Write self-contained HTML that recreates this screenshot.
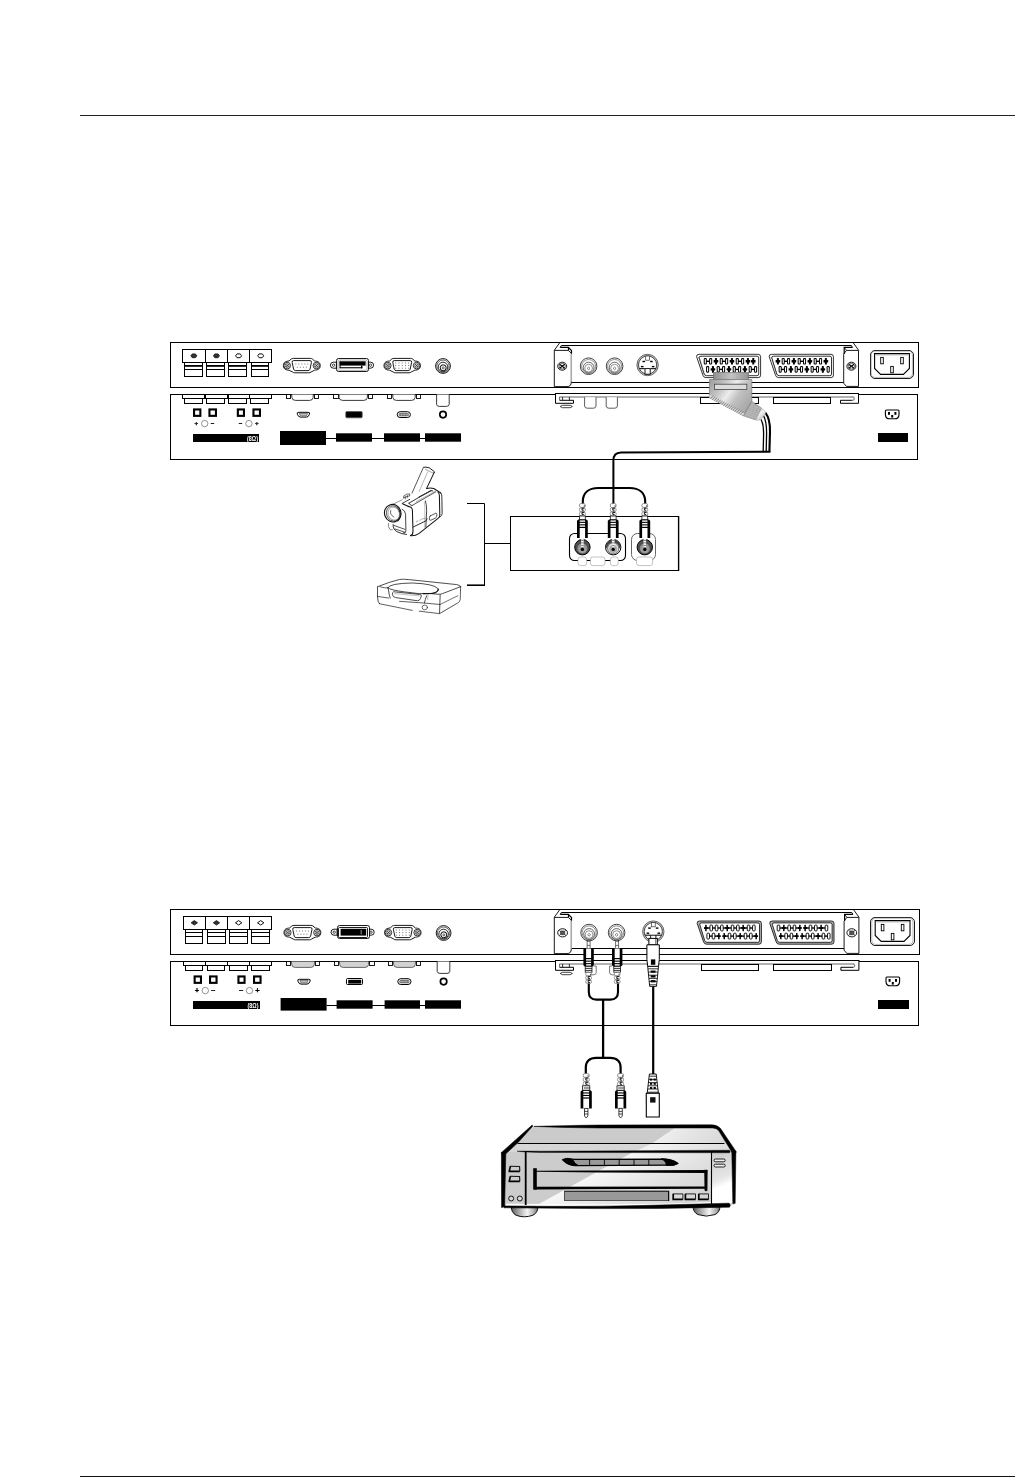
<!DOCTYPE html>
<html lang="en">
<head>
<meta charset="utf-8">
<title>Connections</title>
<style>
html,body{margin:0;padding:0;background:#fff;}
body{width:1015px;height:1477px;overflow:hidden;position:relative;font-family:"Liberation Sans",sans-serif;}
svg{position:absolute;left:0;top:0;display:block;will-change:transform;}
svg text{font-family:"Liberation Sans",sans-serif;}
</style>
</head>
<body>
<svg width="1015" height="1477" viewBox="0 0 1015 1477">
<defs>
<linearGradient id="gPlug" x1="0" y1="0" x2="1" y2="0.6">
<stop offset="0" stop-color="#9a9a9a"/><stop offset="0.3" stop-color="#c4c4c4"/><stop offset="0.5" stop-color="#ececec"/><stop offset="0.7" stop-color="#c0c0c0"/><stop offset="1" stop-color="#a8a8a8"/>
</linearGradient>
<linearGradient id="gPlugTop" x1="0" y1="0" x2="1" y2="0">
<stop offset="0" stop-color="#8c8c8c"/><stop offset="0.5" stop-color="#c8c8c8"/><stop offset="1" stop-color="#909090"/>
</linearGradient>
<linearGradient id="gCone" x1="0" y1="0" x2="0.6" y2="1">
<stop offset="0" stop-color="#b0b0b0"/><stop offset="0.5" stop-color="#f4f4f4"/><stop offset="1" stop-color="#bdbdbd"/>
</linearGradient>
<linearGradient id="gFoot" x1="0" y1="0" x2="1" y2="0">
<stop offset="0" stop-color="#5a5a5a"/><stop offset="0.25" stop-color="#a0a0a0"/><stop offset="0.6" stop-color="#f4f4f4"/><stop offset="0.85" stop-color="#b0b0b0"/><stop offset="1" stop-color="#6a6a6a"/>
</linearGradient>
<linearGradient id="gTop" x1="0" y1="0" x2="1" y2="0">
<stop offset="0" stop-color="#cfcfcf"/><stop offset="0.55" stop-color="#cdcdcd"/><stop offset="0.75" stop-color="#e6e6e6"/><stop offset="1" stop-color="#dadada"/>
</linearGradient>
<linearGradient id="gFront" x1="0" y1="0" x2="1" y2="0">
<stop offset="0" stop-color="#cccccc"/><stop offset="0.3" stop-color="#d0d0d0"/><stop offset="0.55" stop-color="#f2f2f2"/><stop offset="0.75" stop-color="#d4d4d4"/><stop offset="1" stop-color="#e4e4e4"/>
</linearGradient>
</defs>
<rect x="80.00" y="115.00" width="935.00" height="1.00" fill="#222" stroke="none" stroke-width="1" />
<rect x="80.00" y="1476.00" width="935.00" height="1.00" fill="#111" stroke="none" stroke-width="1" />
<rect x="170.50" y="342.50" width="748.00" height="45.00" fill="#fff" stroke="#000" stroke-width="1" />
<rect x="170.50" y="394.50" width="747.00" height="65.00" fill="#fff" stroke="#000" stroke-width="1" />
<rect x="182.50" y="349.50" width="23.00" height="13.00" fill="#fff" stroke="#000" stroke-width="1" />
<rect x="184.50" y="362.50" width="18.00" height="14.00" fill="#fff" stroke="#000" stroke-width="1" />
<rect x="184.20" y="365.00" width="18.40" height="1.80" fill="#000" stroke="none" stroke-width="1" />
<line x1="184.20" y1="369.50" x2="202.60" y2="369.50" stroke="#000" stroke-width="1" />
<path d="M190.85,355.80 L192.25,353.90 L195.45,353.90 L196.85,355.80 L195.45,357.70 L192.25,357.70 Z" fill="#333" stroke="#111" stroke-width="0.8" stroke-linejoin="round"/>
<rect x="182.50" y="394.50" width="22.00" height="4.00" fill="#fff" stroke="#000" stroke-width="1" />
<rect x="184.50" y="398.50" width="18.00" height="5.00" fill="#fff" stroke="#000" stroke-width="1" />
<rect x="205.50" y="349.50" width="22.00" height="13.00" fill="#fff" stroke="#000" stroke-width="1" />
<rect x="206.50" y="362.50" width="18.00" height="14.00" fill="#fff" stroke="#000" stroke-width="1" />
<rect x="206.40" y="365.00" width="18.50" height="1.80" fill="#000" stroke="none" stroke-width="1" />
<line x1="206.40" y1="369.50" x2="224.90" y2="369.50" stroke="#000" stroke-width="1" />
<path d="M213.45,355.80 L214.85,353.90 L218.05,353.90 L219.45,355.80 L218.05,357.70 L214.85,357.70 Z" fill="#333" stroke="#111" stroke-width="0.8" stroke-linejoin="round"/>
<rect x="205.50" y="394.50" width="22.00" height="4.00" fill="#fff" stroke="#000" stroke-width="1" />
<rect x="206.50" y="398.50" width="18.00" height="5.00" fill="#fff" stroke="#000" stroke-width="1" />
<rect x="227.50" y="349.50" width="22.00" height="13.00" fill="#fff" stroke="#000" stroke-width="1" />
<rect x="228.50" y="362.50" width="18.00" height="14.00" fill="#fff" stroke="#000" stroke-width="1" />
<rect x="228.30" y="365.00" width="18.40" height="1.80" fill="#000" stroke="none" stroke-width="1" />
<line x1="228.30" y1="369.50" x2="246.70" y2="369.50" stroke="#000" stroke-width="1" />
<path d="M235.60,355.80 L237.00,353.90 L240.20,353.90 L241.60,355.80 L240.20,357.70 L237.00,357.70 Z" fill="#fff" stroke="#111" stroke-width="1.0" stroke-linejoin="round"/>
<rect x="228.50" y="394.50" width="21.00" height="4.00" fill="#fff" stroke="#000" stroke-width="1" />
<rect x="228.50" y="398.50" width="18.00" height="5.00" fill="#fff" stroke="#000" stroke-width="1" />
<rect x="249.50" y="349.50" width="22.00" height="13.00" fill="#fff" stroke="#000" stroke-width="1" />
<rect x="251.50" y="362.50" width="17.00" height="14.00" fill="#fff" stroke="#000" stroke-width="1" />
<rect x="251.40" y="365.00" width="17.30" height="1.80" fill="#000" stroke="none" stroke-width="1" />
<line x1="251.40" y1="369.50" x2="268.70" y2="369.50" stroke="#000" stroke-width="1" />
<path d="M257.70,355.80 L259.10,353.90 L262.30,353.90 L263.70,355.80 L262.30,357.70 L259.10,357.70 Z" fill="#fff" stroke="#111" stroke-width="1.0" stroke-linejoin="round"/>
<rect x="249.50" y="394.50" width="22.00" height="4.00" fill="#fff" stroke="#000" stroke-width="1" />
<rect x="250.50" y="398.50" width="18.00" height="5.00" fill="#fff" stroke="#000" stroke-width="1" />
<rect x="194.05" y="409.45" width="6.30" height="6.40" fill="#fff" stroke="#000" stroke-width="2.1" />
<rect x="209.45" y="409.45" width="6.50" height="6.40" fill="#fff" stroke="#000" stroke-width="2.1" />
<rect x="237.85" y="409.45" width="6.10" height="6.40" fill="#fff" stroke="#000" stroke-width="2.1" />
<rect x="253.45" y="409.45" width="6.50" height="6.40" fill="#fff" stroke="#000" stroke-width="2.1" />
<text x="196.40" y="424.65" font-size="6.2" fill="#000" text-anchor="middle" font-weight="bold" stroke="#000" stroke-width="0.3">+</text>
<text x="212.50" y="425.45" font-size="6.2" fill="#000" text-anchor="middle" font-weight="bold" stroke="#000" stroke-width="0.3">–</text>
<circle cx="204.70" cy="423.60" r="3.2" fill="#fff" stroke="#666" stroke-width="0.7"/>
<text x="240.40" y="425.45" font-size="6.2" fill="#000" text-anchor="middle" font-weight="bold" stroke="#000" stroke-width="0.3">–</text>
<text x="256.90" y="424.65" font-size="6.2" fill="#000" text-anchor="middle" font-weight="bold" stroke="#000" stroke-width="0.3">+</text>
<circle cx="248.90" cy="423.60" r="3.2" fill="#fff" stroke="#666" stroke-width="0.7"/>
<rect x="193.00" y="434.00" width="66.00" height="8.00" fill="#000" stroke="none" stroke-width="1" />
<text x="252.50" y="440.60" font-size="6.4" fill="#fff" text-anchor="middle" font-weight="bold" textLength="11" lengthAdjust="spacingAndGlyphs">(8Ω)</text>
<rect x="280.00" y="431.00" width="46.00" height="14.00" fill="#000" stroke="none" stroke-width="1" />
<rect x="336.00" y="433.30" width="36.00" height="8.40" fill="#000" stroke="none" stroke-width="1" />
<rect x="384.00" y="433.30" width="36.00" height="8.40" fill="#000" stroke="none" stroke-width="1" />
<rect x="425.00" y="433.30" width="36.00" height="8.40" fill="#000" stroke="none" stroke-width="1" />
<line x1="326.00" y1="438.50" x2="425.00" y2="438.50" stroke="#000" stroke-width="1" />
<rect x="878.00" y="433.00" width="30.00" height="9.00" fill="#000" stroke="none" stroke-width="1" />
<path d="M283.40,365.60 C283.40,362.00 286.00,361.20 289.00,361.00 L291.20,359.00 Q292.00,358.40 293.40,358.40 L310.20,358.40 Q311.60,358.40 312.40,359.00 L314.60,361.00 C317.60,361.20 320.20,362.00 320.20,365.60 C320.20,369.20 317.60,370.00 314.60,370.20 L311.00,372.00 Q310.20,372.80 308.80,372.80 L294.80,372.80 Q293.40,372.80 292.60,372.00 L289.00,370.20 C286.00,370.00 283.40,369.20 283.40,365.60 Z" fill="#fff" stroke="#000" stroke-width="0.9" />
<circle cx="287.20" cy="365.60" r="3.3" fill="#fff" stroke="#000" stroke-width="0.8"/>
<circle cx="287.20" cy="365.60" r="1.9999999999999998" fill="#e0e0e0" stroke="#333" stroke-width="0.6"/>
<line x1="285.80" y1="364.20" x2="288.60" y2="367.00" stroke="#000" stroke-width="0.6" />
<line x1="285.80" y1="367.00" x2="288.60" y2="364.20" stroke="#000" stroke-width="0.6" />
<circle cx="316.40" cy="365.60" r="3.3" fill="#fff" stroke="#000" stroke-width="0.8"/>
<circle cx="316.40" cy="365.60" r="1.9999999999999998" fill="#e0e0e0" stroke="#333" stroke-width="0.6"/>
<line x1="315.00" y1="364.20" x2="317.80" y2="367.00" stroke="#000" stroke-width="0.6" />
<line x1="315.00" y1="367.00" x2="317.80" y2="364.20" stroke="#000" stroke-width="0.6" />
<path d="M293.60,360.60 L310.00,360.60 Q311.80,360.60 311.40,362.40 L310.00,369.20 Q309.60,370.60 308.00,370.60 L295.60,370.60 Q294.00,370.60 293.60,369.20 L292.20,362.40 Q291.80,360.60 293.60,360.60 Z" fill="#fff" stroke="#000" stroke-width="0.9" />
<rect x="295.35" y="363.55" width="0.9" height="0.9" fill="#555"/>
<rect x="298.35" y="363.55" width="0.9" height="0.9" fill="#555"/>
<rect x="301.35" y="363.55" width="0.9" height="0.9" fill="#555"/>
<rect x="304.35" y="363.55" width="0.9" height="0.9" fill="#555"/>
<rect x="307.35" y="363.55" width="0.9" height="0.9" fill="#555"/>
<rect x="296.85" y="366.75" width="0.9" height="0.9" fill="#555"/>
<rect x="299.85" y="366.75" width="0.9" height="0.9" fill="#555"/>
<rect x="302.85" y="366.75" width="0.9" height="0.9" fill="#555"/>
<rect x="305.85" y="366.75" width="0.9" height="0.9" fill="#555"/>
<path d="M336.40,362.20 L333.40,362.20 A3,3 0 0 0 333.40,368.20 L336.40,368.20 Z" fill="#fff" stroke="#000" stroke-width="0.9" />
<path d="M367.60,362.20 L370.60,362.20 A3,3 0 0 1 370.60,368.20 L367.60,368.20 Z" fill="#fff" stroke="#000" stroke-width="0.9" />
<circle cx="333.60" cy="365.20" r="1.2" fill="#fff" stroke="#000" stroke-width="0.7"/>
<circle cx="370.40" cy="365.20" r="1.2" fill="#fff" stroke="#000" stroke-width="0.7"/>
<rect x="336.50" y="358.50" width="32.00" height="13.00" fill="#fff" stroke="#000" stroke-width="0.9" rx="2" />
<rect x="338.00" y="360.00" width="29.00" height="10.40" fill="#fff" stroke="#777" stroke-width="0.6" rx="1.2" />
<rect x="339.60" y="361.30" width="26.00" height="4.30" fill="#000" stroke="none" stroke-width="1" />
<rect x="339.60" y="361.30" width="1.00" height="6.90" fill="#000" stroke="none" stroke-width="1" />
<rect x="339.60" y="367.20" width="22.80" height="1.10" fill="#000" stroke="none" stroke-width="1" />
<rect x="361.00" y="365.60" width="1.40" height="2.70" fill="#000" stroke="none" stroke-width="1" />
<path d="M384.00,365.60 C384.00,362.00 386.60,361.20 389.60,361.00 L391.80,359.00 Q392.60,358.40 394.00,358.40 L410.40,358.40 Q411.80,358.40 412.60,359.00 L414.80,361.00 C417.80,361.20 420.40,362.00 420.40,365.60 C420.40,369.20 417.80,370.00 414.80,370.20 L411.20,372.00 Q410.40,372.80 409.00,372.80 L395.40,372.80 Q394.00,372.80 393.20,372.00 L389.60,370.20 C386.60,370.00 384.00,369.20 384.00,365.60 Z" fill="#fff" stroke="#000" stroke-width="0.9" />
<circle cx="387.80" cy="365.60" r="3.3" fill="#fff" stroke="#000" stroke-width="0.8"/>
<circle cx="387.80" cy="365.60" r="1.9999999999999998" fill="#e0e0e0" stroke="#333" stroke-width="0.6"/>
<line x1="386.40" y1="364.20" x2="389.20" y2="367.00" stroke="#000" stroke-width="0.6" />
<line x1="386.40" y1="367.00" x2="389.20" y2="364.20" stroke="#000" stroke-width="0.6" />
<circle cx="416.60" cy="365.60" r="3.3" fill="#fff" stroke="#000" stroke-width="0.8"/>
<circle cx="416.60" cy="365.60" r="1.9999999999999998" fill="#e0e0e0" stroke="#333" stroke-width="0.6"/>
<line x1="415.20" y1="364.20" x2="418.00" y2="367.00" stroke="#000" stroke-width="0.6" />
<line x1="415.20" y1="367.00" x2="418.00" y2="364.20" stroke="#000" stroke-width="0.6" />
<path d="M394.20,360.60 L410.20,360.60 Q412.00,360.60 411.60,362.40 L410.20,369.20 Q409.80,370.60 408.20,370.60 L396.20,370.60 Q394.60,370.60 394.20,369.20 L392.80,362.40 Q392.40,360.60 394.20,360.60 Z" fill="#fff" stroke="#000" stroke-width="0.9" />
<rect x="395.25" y="362.55" width="0.9" height="0.9" fill="#555"/>
<rect x="398.50" y="362.55" width="0.9" height="0.9" fill="#555"/>
<rect x="401.75" y="362.55" width="0.9" height="0.9" fill="#555"/>
<rect x="405.00" y="362.55" width="0.9" height="0.9" fill="#555"/>
<rect x="408.25" y="362.55" width="0.9" height="0.9" fill="#555"/>
<rect x="395.25" y="365.15" width="0.9" height="0.9" fill="#555"/>
<rect x="398.50" y="365.15" width="0.9" height="0.9" fill="#555"/>
<rect x="401.75" y="365.15" width="0.9" height="0.9" fill="#555"/>
<rect x="405.00" y="365.15" width="0.9" height="0.9" fill="#555"/>
<rect x="408.25" y="365.15" width="0.9" height="0.9" fill="#555"/>
<rect x="395.25" y="367.75" width="0.9" height="0.9" fill="#555"/>
<rect x="398.50" y="367.75" width="0.9" height="0.9" fill="#555"/>
<rect x="401.75" y="367.75" width="0.9" height="0.9" fill="#555"/>
<rect x="405.00" y="367.75" width="0.9" height="0.9" fill="#555"/>
<rect x="408.25" y="367.75" width="0.9" height="0.9" fill="#555"/>
<circle cx="443.00" cy="366.00" r="7.4" fill="#fff" stroke="#000" stroke-width="0.9"/>
<circle cx="443.00" cy="366.20" r="6.2" fill="#fff" stroke="#222" stroke-width="0.7"/>
<circle cx="443.00" cy="367.00" r="4.8" fill="#fff" stroke="#111" stroke-width="0.9"/>
<circle cx="443.20" cy="367.80" r="3.0" fill="#fff" stroke="#000" stroke-width="1.0"/>
<circle cx="443.20" cy="367.90" r="1.0" fill="#fff" stroke="#222" stroke-width="0.7"/>
<rect x="286.50" y="394.50" width="4.00" height="4.00" fill="#fff" stroke="#000" stroke-width="0.9" />
<rect x="314.50" y="394.50" width="4.00" height="4.00" fill="#fff" stroke="#000" stroke-width="0.9" />
<path d="M291.80,394.40 L291.80,397.40 Q292.20,400.40 295.40,400.40 L309.60,400.40 Q312.80,400.40 313.20,397.40 L313.20,394.40" fill="#fff" stroke="#222" stroke-width="0.9" />
<rect x="333.50" y="394.50" width="5.00" height="4.00" fill="#fff" stroke="#000" stroke-width="0.9" />
<rect x="368.50" y="394.50" width="4.00" height="4.00" fill="#fff" stroke="#000" stroke-width="0.9" />
<path d="M339.00,394.40 L339.00,397.40 Q339.40,400.40 342.60,400.40 L363.80,400.40 Q367.00,400.40 367.40,397.40 L367.40,394.40" fill="#fff" stroke="#222" stroke-width="0.9" />
<rect x="387.50" y="394.50" width="4.00" height="4.00" fill="#fff" stroke="#000" stroke-width="0.9" />
<rect x="416.50" y="394.50" width="4.00" height="4.00" fill="#fff" stroke="#000" stroke-width="0.9" />
<path d="M392.80,394.40 L392.80,397.40 Q393.20,400.40 396.40,400.40 L411.60,400.40 Q414.80,400.40 415.20,397.40 L415.20,394.40" fill="#fff" stroke="#222" stroke-width="0.9" />
<path d="M436.60,394.40 L436.60,404.40 Q436.80,406.40 439.40,406.40 L446.40,406.40 Q449.00,406.40 449.20,404.40 L449.20,394.40" fill="#fff" stroke="#222" stroke-width="0.9" />
<path d="M298.80,412.30 L308.00,412.30 Q310.40,412.30 309.40,414.40 Q308.40,417.10 306.40,417.10 L300.40,417.10 Q298.40,417.10 297.40,414.40 Q296.40,412.30 298.80,412.30 Z" fill="#fff" stroke="#000" stroke-width="1.0" />
<path d="M299.20,413.60 L307.60,413.60 L306.40,415.80 L300.40,415.80 Z" fill="#ccc" stroke="#333" stroke-width="0.6" />
<rect x="397.20" y="411.70" width="13.20" height="5.80" fill="#fff" stroke="#000" stroke-width="1.0" rx="2.9" />
<rect x="399.00" y="413.30" width="9.60" height="2.60" fill="#ccc" stroke="#333" stroke-width="0.6" rx="1.2" />
<line x1="400.60" y1="413.40" x2="400.60" y2="415.80" stroke="#333" stroke-width="0.5" />
<line x1="402.20" y1="413.40" x2="402.20" y2="415.80" stroke="#333" stroke-width="0.5" />
<line x1="403.80" y1="413.40" x2="403.80" y2="415.80" stroke="#333" stroke-width="0.5" />
<line x1="405.40" y1="413.40" x2="405.40" y2="415.80" stroke="#333" stroke-width="0.5" />
<line x1="407.00" y1="413.40" x2="407.00" y2="415.80" stroke="#333" stroke-width="0.5" />
<rect x="345.80" y="411.60" width="16.40" height="6.20" fill="#000" stroke="#555" stroke-width="0.8" rx="1" />
<circle cx="443.00" cy="414.60" r="3.2" fill="#fff" stroke="#000" stroke-width="1.7"/>
<path d="M560.2,347.40 L561.4,345.50 L851.40,345.50 L852.40,347.40" fill="none" stroke="#000" stroke-width="1" />
<line x1="571.40" y1="382.50" x2="843.60" y2="382.50" stroke="#000" stroke-width="1" />
<line x1="554.20" y1="350.40" x2="559.80" y2="342.60" stroke="#000" stroke-width="0.9" />
<path d="M554.3,350.40 L568.3,350.40 L571.3,353.20 L571.3,382.00 Q571.3,386.60 567,386.60 L554.3,386.60 Z" fill="#fff" stroke="#000" stroke-width="0.9" />
<line x1="571.50" y1="353.60" x2="571.50" y2="381.60" stroke="#aaa" stroke-width="1.1" />
<path d="M560.2,347.40 L568.3,347.40 L571.5,350.60 L571.5,353.40" fill="none" stroke="#000" stroke-width="1.2" />
<line x1="568.50" y1="347.20" x2="568.50" y2="350.40" stroke="#000" stroke-width="1.2" />
<ellipse cx="562.20" cy="366.20" rx="4.5" ry="4.0" fill="#fff" stroke="#000" stroke-width="0.9" />
<ellipse cx="562.20" cy="366.20" rx="3.2" ry="2.8" fill="#fff" stroke="#333" stroke-width="0.7" />
<line x1="559.60" y1="364.20" x2="564.80" y2="368.20" stroke="#000" stroke-width="1.1" />
<line x1="559.60" y1="368.20" x2="564.80" y2="364.20" stroke="#000" stroke-width="1.1" />
<line x1="858.70" y1="350.40" x2="853.10" y2="342.60" stroke="#000" stroke-width="0.9" />
<path d="M858.50,350.40 L846.40,350.40 L843.70,354.20 L843.70,383.20 L846.40,386.40 L858.50,386.40 Z" fill="#fff" stroke="#000" stroke-width="0.9" />
<path d="M852.40,347.40 L844.20,347.40 L844.20,354.00" fill="none" stroke="#000" stroke-width="1.2" />
<line x1="846.40" y1="350.20" x2="844.40" y2="347.60" stroke="#000" stroke-width="0.8" />
<ellipse cx="851.40" cy="366.20" rx="4.5" ry="4.0" fill="#fff" stroke="#000" stroke-width="0.9" />
<ellipse cx="851.40" cy="366.20" rx="3.2" ry="2.8" fill="#fff" stroke="#333" stroke-width="0.7" />
<line x1="848.80" y1="364.20" x2="854.00" y2="368.20" stroke="#000" stroke-width="1.1" />
<line x1="848.80" y1="368.20" x2="854.00" y2="364.20" stroke="#000" stroke-width="1.1" />
<circle cx="588.60" cy="366.20" r="8.3" fill="#fff" stroke="#111" stroke-width="0.8"/>
<circle cx="588.60" cy="366.50" r="7.0" fill="#fff" stroke="#444" stroke-width="0.6"/>
<circle cx="588.60" cy="367.60" r="5.4" fill="#fff" stroke="#222" stroke-width="0.7"/>
<circle cx="588.60" cy="368.20" r="3.9" fill="#fff" stroke="#444" stroke-width="0.6"/>
<path d="M587.10,368.40 L588.60,367.00 L590.10,368.40 L588.60,369.80 Z" fill="#fff" stroke="#333" stroke-width="0.6" />
<circle cx="614.60" cy="366.20" r="8.3" fill="#fff" stroke="#111" stroke-width="0.8"/>
<circle cx="614.60" cy="366.50" r="7.0" fill="#fff" stroke="#444" stroke-width="0.6"/>
<circle cx="614.60" cy="367.60" r="5.4" fill="#fff" stroke="#222" stroke-width="0.7"/>
<circle cx="614.60" cy="368.20" r="3.9" fill="#fff" stroke="#444" stroke-width="0.6"/>
<path d="M613.10,368.40 L614.60,367.00 L616.10,368.40 L614.60,369.80 Z" fill="#fff" stroke="#333" stroke-width="0.6" />
<circle cx="647.60" cy="365.00" r="10.7" fill="#c8c8c8" stroke="#333" stroke-width="0.7"/>
<circle cx="647.60" cy="365.00" r="9.1" fill="#fff" stroke="#222" stroke-width="0.8"/>
<rect x="645.70" y="356.00" width="3.8" height="4.2" fill="#fff" stroke="#333" stroke-width="0.7"/>
<rect x="645.00" y="368.60" width="5.2" height="5.6" fill="#fff" stroke="#000" stroke-width="0.9"/>
<rect x="639.20" y="368.00" width="5.6" height="1.2" fill="#222"/>
<rect x="650.40" y="368.00" width="5.6" height="1.2" fill="#222"/>
<rect x="642.50" y="360.80" width="2.6" height="1.4" fill="#000"/>
<rect x="650.10" y="360.80" width="2.6" height="1.4" fill="#000"/>
<rect x="640.90" y="365.90" width="2.6" height="1.4" fill="#000"/>
<rect x="651.80" y="365.90" width="2.6" height="1.4" fill="#000"/>
<path d="M699.20,354.30 L758.20,354.30 Q760.60,354.30 760.60,356.70 L760.60,375.20 Q760.60,377.60 758.20,377.60 L706.00,377.60 Q703.60,377.60 702.90,375.20 L696.60,356.70 Q696.20,354.30 699.20,354.30 Z" fill="#fff" stroke="#000" stroke-width="0.8" />
<path d="M700.97,356.20 L757.10,356.20 Q758.70,356.20 758.70,357.80 L758.70,374.10 Q758.70,375.70 757.10,375.70 L706.43,375.70 Q704.83,375.70 704.13,374.10 L699.16,357.80 Q698.76,356.20 700.97,356.20 Z" fill="#fff" stroke="#000" stroke-width="0.8" />
<line x1="698.12" y1="357.15" x2="700.02" y2="359.55" stroke="#333" stroke-width="0.5"/>
<line x1="699.15" y1="360.23" x2="701.05" y2="362.63" stroke="#333" stroke-width="0.5"/>
<line x1="700.18" y1="363.30" x2="702.08" y2="365.70" stroke="#333" stroke-width="0.5"/>
<line x1="701.21" y1="366.38" x2="703.11" y2="368.78" stroke="#333" stroke-width="0.5"/>
<line x1="702.24" y1="369.46" x2="704.14" y2="371.86" stroke="#333" stroke-width="0.5"/>
<line x1="703.27" y1="372.53" x2="705.17" y2="374.93" stroke="#333" stroke-width="0.5"/>
<rect x="705.30" y="360.60" width="5.33" height="1.4" fill="#000"/>
<rect x="721.29" y="360.60" width="5.33" height="1.4" fill="#000"/>
<rect x="737.28" y="360.60" width="5.33" height="1.4" fill="#000"/>
<rect x="703.75" y="358.00" width="3.1" height="6.6" rx="1.1" fill="#000"/>
<rect x="704.75" y="359.00" width="1.1" height="4.6" rx="0.4" fill="#fff"/>
<rect x="709.08" y="358.00" width="3.1" height="6.6" rx="1.1" fill="#000"/>
<rect x="710.08" y="359.00" width="1.1" height="4.6" rx="0.4" fill="#fff"/>
<rect x="714.96" y="358.00" width="2.0" height="6.6" rx="0.5" fill="#000"/>
<rect x="713.66" y="360.10" width="4.6" height="2.4" rx="0.5" fill="#000"/>
<rect x="719.74" y="358.00" width="3.1" height="6.6" rx="1.1" fill="#000"/>
<rect x="720.74" y="359.00" width="1.1" height="4.6" rx="0.4" fill="#fff"/>
<rect x="725.07" y="358.00" width="3.1" height="6.6" rx="1.1" fill="#000"/>
<rect x="726.07" y="359.00" width="1.1" height="4.6" rx="0.4" fill="#fff"/>
<rect x="730.95" y="358.00" width="2.0" height="6.6" rx="0.5" fill="#000"/>
<rect x="729.65" y="360.10" width="4.6" height="2.4" rx="0.5" fill="#000"/>
<rect x="735.73" y="358.00" width="3.1" height="6.6" rx="1.1" fill="#000"/>
<rect x="736.73" y="359.00" width="1.1" height="4.6" rx="0.4" fill="#fff"/>
<rect x="741.06" y="358.00" width="3.1" height="6.6" rx="1.1" fill="#000"/>
<rect x="742.06" y="359.00" width="1.1" height="4.6" rx="0.4" fill="#fff"/>
<rect x="746.94" y="358.00" width="2.0" height="6.6" rx="0.5" fill="#000"/>
<rect x="745.64" y="360.10" width="4.6" height="2.4" rx="0.5" fill="#000"/>
<rect x="752.27" y="358.00" width="2.0" height="6.6" rx="0.5" fill="#000"/>
<rect x="750.97" y="360.10" width="4.6" height="2.4" rx="0.5" fill="#000"/>
<rect x="718.26" y="368.70" width="5.33" height="1.4" fill="#000"/>
<rect x="734.25" y="368.70" width="5.33" height="1.4" fill="#000"/>
<rect x="750.24" y="368.70" width="5.33" height="1.4" fill="#000"/>
<rect x="706.05" y="366.10" width="3.1" height="6.6" rx="1.1" fill="#000"/>
<rect x="707.05" y="367.10" width="1.1" height="4.6" rx="0.4" fill="#fff"/>
<rect x="711.93" y="366.10" width="2.0" height="6.6" rx="0.5" fill="#000"/>
<rect x="710.63" y="368.20" width="4.6" height="2.4" rx="0.5" fill="#000"/>
<rect x="716.71" y="366.10" width="3.1" height="6.6" rx="1.1" fill="#000"/>
<rect x="717.71" y="367.10" width="1.1" height="4.6" rx="0.4" fill="#fff"/>
<rect x="722.04" y="366.10" width="3.1" height="6.6" rx="1.1" fill="#000"/>
<rect x="723.04" y="367.10" width="1.1" height="4.6" rx="0.4" fill="#fff"/>
<rect x="727.92" y="366.10" width="2.0" height="6.6" rx="0.5" fill="#000"/>
<rect x="726.62" y="368.20" width="4.6" height="2.4" rx="0.5" fill="#000"/>
<rect x="732.70" y="366.10" width="3.1" height="6.6" rx="1.1" fill="#000"/>
<rect x="733.70" y="367.10" width="1.1" height="4.6" rx="0.4" fill="#fff"/>
<rect x="738.03" y="366.10" width="3.1" height="6.6" rx="1.1" fill="#000"/>
<rect x="739.03" y="367.10" width="1.1" height="4.6" rx="0.4" fill="#fff"/>
<rect x="743.91" y="366.10" width="2.0" height="6.6" rx="0.5" fill="#000"/>
<rect x="742.61" y="368.20" width="4.6" height="2.4" rx="0.5" fill="#000"/>
<rect x="748.69" y="366.10" width="3.1" height="6.6" rx="1.1" fill="#000"/>
<rect x="749.69" y="367.10" width="1.1" height="4.6" rx="0.4" fill="#fff"/>
<rect x="754.02" y="366.10" width="3.1" height="6.6" rx="1.1" fill="#000"/>
<rect x="755.02" y="367.10" width="1.1" height="4.6" rx="0.4" fill="#fff"/>
<path d="M771.80,354.30 L831.00,354.30 Q833.40,354.30 833.40,356.70 L833.40,375.20 Q833.40,377.60 831.00,377.60 L778.60,377.60 Q776.20,377.60 775.50,375.20 L769.20,356.70 Q768.80,354.30 771.80,354.30 Z" fill="#fff" stroke="#000" stroke-width="0.8" />
<path d="M773.57,356.20 L829.90,356.20 Q831.50,356.20 831.50,357.80 L831.50,374.10 Q831.50,375.70 829.90,375.70 L779.03,375.70 Q777.43,375.70 776.73,374.10 L771.76,357.80 Q771.37,356.20 773.57,356.20 Z" fill="#fff" stroke="#000" stroke-width="0.8" />
<line x1="770.72" y1="357.15" x2="772.62" y2="359.55" stroke="#333" stroke-width="0.5"/>
<line x1="771.75" y1="360.23" x2="773.65" y2="362.63" stroke="#333" stroke-width="0.5"/>
<line x1="772.78" y1="363.30" x2="774.68" y2="365.70" stroke="#333" stroke-width="0.5"/>
<line x1="773.81" y1="366.38" x2="775.71" y2="368.78" stroke="#333" stroke-width="0.5"/>
<line x1="774.84" y1="369.46" x2="776.74" y2="371.86" stroke="#333" stroke-width="0.5"/>
<line x1="775.87" y1="372.53" x2="777.77" y2="374.93" stroke="#333" stroke-width="0.5"/>
<rect x="783.23" y="360.60" width="5.33" height="1.4" fill="#000"/>
<rect x="799.22" y="360.60" width="5.33" height="1.4" fill="#000"/>
<rect x="815.21" y="360.60" width="5.33" height="1.4" fill="#000"/>
<rect x="776.90" y="358.00" width="2.0" height="6.6" rx="0.5" fill="#000"/>
<rect x="775.60" y="360.10" width="4.6" height="2.4" rx="0.5" fill="#000"/>
<rect x="781.68" y="358.00" width="3.1" height="6.6" rx="1.1" fill="#000"/>
<rect x="782.68" y="359.00" width="1.1" height="4.6" rx="0.4" fill="#fff"/>
<rect x="787.01" y="358.00" width="3.1" height="6.6" rx="1.1" fill="#000"/>
<rect x="788.01" y="359.00" width="1.1" height="4.6" rx="0.4" fill="#fff"/>
<rect x="792.89" y="358.00" width="2.0" height="6.6" rx="0.5" fill="#000"/>
<rect x="791.59" y="360.10" width="4.6" height="2.4" rx="0.5" fill="#000"/>
<rect x="797.67" y="358.00" width="3.1" height="6.6" rx="1.1" fill="#000"/>
<rect x="798.67" y="359.00" width="1.1" height="4.6" rx="0.4" fill="#fff"/>
<rect x="803.00" y="358.00" width="3.1" height="6.6" rx="1.1" fill="#000"/>
<rect x="804.00" y="359.00" width="1.1" height="4.6" rx="0.4" fill="#fff"/>
<rect x="808.88" y="358.00" width="2.0" height="6.6" rx="0.5" fill="#000"/>
<rect x="807.58" y="360.10" width="4.6" height="2.4" rx="0.5" fill="#000"/>
<rect x="813.66" y="358.00" width="3.1" height="6.6" rx="1.1" fill="#000"/>
<rect x="814.66" y="359.00" width="1.1" height="4.6" rx="0.4" fill="#fff"/>
<rect x="818.99" y="358.00" width="3.1" height="6.6" rx="1.1" fill="#000"/>
<rect x="819.99" y="359.00" width="1.1" height="4.6" rx="0.4" fill="#fff"/>
<rect x="824.87" y="358.00" width="2.0" height="6.6" rx="0.5" fill="#000"/>
<rect x="823.57" y="360.10" width="4.6" height="2.4" rx="0.5" fill="#000"/>
<rect x="780.20" y="368.70" width="5.33" height="1.4" fill="#000"/>
<rect x="796.19" y="368.70" width="5.33" height="1.4" fill="#000"/>
<rect x="812.18" y="368.70" width="5.33" height="1.4" fill="#000"/>
<rect x="778.65" y="366.10" width="3.1" height="6.6" rx="1.1" fill="#000"/>
<rect x="779.65" y="367.10" width="1.1" height="4.6" rx="0.4" fill="#fff"/>
<rect x="783.98" y="366.10" width="3.1" height="6.6" rx="1.1" fill="#000"/>
<rect x="784.98" y="367.10" width="1.1" height="4.6" rx="0.4" fill="#fff"/>
<rect x="789.86" y="366.10" width="2.0" height="6.6" rx="0.5" fill="#000"/>
<rect x="788.56" y="368.20" width="4.6" height="2.4" rx="0.5" fill="#000"/>
<rect x="794.64" y="366.10" width="3.1" height="6.6" rx="1.1" fill="#000"/>
<rect x="795.64" y="367.10" width="1.1" height="4.6" rx="0.4" fill="#fff"/>
<rect x="799.97" y="366.10" width="3.1" height="6.6" rx="1.1" fill="#000"/>
<rect x="800.97" y="367.10" width="1.1" height="4.6" rx="0.4" fill="#fff"/>
<rect x="805.85" y="366.10" width="2.0" height="6.6" rx="0.5" fill="#000"/>
<rect x="804.55" y="368.20" width="4.6" height="2.4" rx="0.5" fill="#000"/>
<rect x="810.63" y="366.10" width="3.1" height="6.6" rx="1.1" fill="#000"/>
<rect x="811.63" y="367.10" width="1.1" height="4.6" rx="0.4" fill="#fff"/>
<rect x="815.96" y="366.10" width="3.1" height="6.6" rx="1.1" fill="#000"/>
<rect x="816.96" y="367.10" width="1.1" height="4.6" rx="0.4" fill="#fff"/>
<rect x="821.84" y="366.10" width="2.0" height="6.6" rx="0.5" fill="#000"/>
<rect x="820.54" y="368.20" width="4.6" height="2.4" rx="0.5" fill="#000"/>
<rect x="826.62" y="366.10" width="3.1" height="6.6" rx="1.1" fill="#000"/>
<rect x="827.62" y="367.10" width="1.1" height="4.6" rx="0.4" fill="#fff"/>
<rect x="870.50" y="350.50" width="43.00" height="28.00" fill="#fff" stroke="#000" stroke-width="0.9" rx="4.5" />
<rect x="871.20" y="351.20" width="41.20" height="26.20" fill="none" stroke="#888" stroke-width="0.6" rx="3.6" />
<path d="M874.60,353.60 L909.40,353.60 L909.40,368.40 L903.40,374.40 L880.60,374.40 L874.60,368.40 Z" fill="#fff" stroke="#000" stroke-width="1.1" />
<path d="M876.20,355.00 L907.80,355.00" fill="none" stroke="#999" stroke-width="0.6" />
<rect x="880.70" y="357.40" width="2.6" height="6.4" fill="#fff" stroke="#000" stroke-width="0.9"/>
<rect x="900.70" y="357.40" width="2.6" height="6.4" fill="#fff" stroke="#000" stroke-width="0.9"/>
<rect x="890.70" y="366.40" width="2.6" height="6.4" fill="#fff" stroke="#000" stroke-width="0.9"/>
<rect x="555.40" y="393.40" width="303.10" height="10.00" fill="#fff" stroke="none" stroke-width="1" />
<line x1="555.00" y1="393.50" x2="859.00" y2="393.50" stroke="#000" stroke-width="1" />
<line x1="559.40" y1="397.00" x2="853.60" y2="397.00" stroke="#999" stroke-width="1.4" />
<path d="M555.5,393.40 L555.5,403.30 L573.5,403.30 L573.5,400.30 L559.6,400.30" fill="none" stroke="#000" stroke-width="1" />
<path d="M559.6,397.00 L559.6,400.30" fill="none" stroke="#555" stroke-width="0.9" />
<line x1="562.60" y1="397.00" x2="562.60" y2="400.30" stroke="#000" stroke-width="0.8" />
<line x1="569.40" y1="397.00" x2="569.40" y2="400.30" stroke="#000" stroke-width="0.8" />
<path d="M560.2,406.50 L562.4,405.30 L570.2,405.30 L572.4,406.50 L570.2,407.70 L562.4,407.70 Z" fill="#fff" stroke="#111" stroke-width="0.8" />
<path d="M858.50,393.40 L858.50,403.30 L840.50,403.30 L840.50,400.30 L852.60,400.30" fill="none" stroke="#000" stroke-width="1" />
<path d="M852.60,400.30 Q854.40,400.30 854.40,398.60 Q854.40,397.00 852.60,397.00" fill="none" stroke="#888" stroke-width="1.2" />
<rect x="700.50" y="397.50" width="58.00" height="6.00" fill="#fff" stroke="#000" stroke-width="1" />
<rect x="773.50" y="397.50" width="57.00" height="6.00" fill="#fff" stroke="#000" stroke-width="1" />
<path d="M584.60,397.20 L584.60,406.00 Q584.80,408.20 587.20,408.20 L593.40,408.20 Q595.80,408.20 596.00,406.00 L596.00,397.20" fill="#fff" stroke="#333" stroke-width="0.8" />
<path d="M606.20,397.20 L606.20,406.00 Q606.40,408.20 608.80,408.20 L614.80,408.20 Q617.20,408.20 617.40,406.00 L617.40,397.20" fill="#fff" stroke="#333" stroke-width="0.8" />
<path d="M885.40,411.00 Q885.40,410.00 886.40,410.00 L898.00,410.00 Q899.00,410.00 899.00,411.00 L899.00,414.60 Q898.80,418.80 894.80,418.80 L889.60,418.80 Q885.60,418.80 885.40,414.60 Z" fill="#fff" stroke="#000" stroke-width="1.1" />
<rect x="888.00" y="412.00" width="2.00" height="2.80" fill="#000" stroke="none" stroke-width="1" />
<rect x="894.40" y="412.00" width="2.00" height="2.80" fill="#000" stroke="none" stroke-width="1" />
<rect x="891.20" y="415.00" width="2.00" height="2.60" fill="#000" stroke="none" stroke-width="1" />
<rect x="170.50" y="909.50" width="749.00" height="45.00" fill="#fff" stroke="#000" stroke-width="1" />
<rect x="170.50" y="961.50" width="748.00" height="64.00" fill="#fff" stroke="#000" stroke-width="1" />
<rect x="183.50" y="916.50" width="22.00" height="13.00" fill="#fff" stroke="#000" stroke-width="1" />
<rect x="185.50" y="929.50" width="17.00" height="14.00" fill="#fff" stroke="#000" stroke-width="1" />
<line x1="185.30" y1="932.50" x2="202.60" y2="932.50" stroke="#000" stroke-width="1" />
<line x1="185.30" y1="936.50" x2="202.60" y2="936.50" stroke="#000" stroke-width="1" />
<path d="M191.10,922.80 L194.30,920.60 L197.50,922.80 L194.30,925.00 Z" fill="#333" stroke="#111" stroke-width="0.8" />
<rect x="183.50" y="961.50" width="22.00" height="4.00" fill="#fff" stroke="#000" stroke-width="1" />
<rect x="185.50" y="965.50" width="17.00" height="5.00" fill="#fff" stroke="#000" stroke-width="1" />
<rect x="205.50" y="916.50" width="22.00" height="13.00" fill="#fff" stroke="#000" stroke-width="1" />
<rect x="207.50" y="929.50" width="18.00" height="14.00" fill="#fff" stroke="#000" stroke-width="1" />
<line x1="207.30" y1="932.50" x2="225.70" y2="932.50" stroke="#000" stroke-width="1" />
<line x1="207.30" y1="936.50" x2="225.70" y2="936.50" stroke="#000" stroke-width="1" />
<path d="M213.25,922.80 L216.45,920.60 L219.65,922.80 L216.45,925.00 Z" fill="#333" stroke="#111" stroke-width="0.8" />
<rect x="205.50" y="961.50" width="22.00" height="4.00" fill="#fff" stroke="#000" stroke-width="1" />
<rect x="207.50" y="965.50" width="17.00" height="5.00" fill="#fff" stroke="#000" stroke-width="1" />
<rect x="227.50" y="916.50" width="22.00" height="13.00" fill="#fff" stroke="#000" stroke-width="1" />
<rect x="229.50" y="929.50" width="18.00" height="14.00" fill="#fff" stroke="#000" stroke-width="1" />
<line x1="229.20" y1="932.50" x2="247.60" y2="932.50" stroke="#000" stroke-width="1" />
<line x1="229.20" y1="936.50" x2="247.60" y2="936.50" stroke="#000" stroke-width="1" />
<path d="M235.40,922.80 L238.60,920.60 L241.80,922.80 L238.60,925.00 Z" fill="#fff" stroke="#111" stroke-width="1.0" />
<rect x="227.50" y="961.50" width="22.00" height="4.00" fill="#fff" stroke="#000" stroke-width="1" />
<rect x="229.50" y="965.50" width="18.00" height="5.00" fill="#fff" stroke="#000" stroke-width="1" />
<rect x="249.50" y="916.50" width="22.00" height="13.00" fill="#fff" stroke="#000" stroke-width="1" />
<rect x="251.50" y="929.50" width="18.00" height="14.00" fill="#fff" stroke="#000" stroke-width="1" />
<line x1="251.40" y1="932.50" x2="269.80" y2="932.50" stroke="#000" stroke-width="1" />
<line x1="251.40" y1="936.50" x2="269.80" y2="936.50" stroke="#000" stroke-width="1" />
<path d="M257.50,922.80 L260.70,920.60 L263.90,922.80 L260.70,925.00 Z" fill="#fff" stroke="#111" stroke-width="1.0" />
<rect x="249.50" y="961.50" width="22.00" height="4.00" fill="#fff" stroke="#000" stroke-width="1" />
<rect x="251.50" y="965.50" width="18.00" height="5.00" fill="#fff" stroke="#000" stroke-width="1" />
<rect x="194.65" y="976.45" width="6.30" height="6.40" fill="#fff" stroke="#000" stroke-width="2.1" />
<rect x="210.05" y="976.45" width="6.50" height="6.40" fill="#fff" stroke="#000" stroke-width="2.1" />
<rect x="238.45" y="976.45" width="6.10" height="6.40" fill="#fff" stroke="#000" stroke-width="2.1" />
<rect x="254.05" y="976.45" width="6.50" height="6.40" fill="#fff" stroke="#000" stroke-width="2.1" />
<text x="197.00" y="993.01" font-size="7.6" fill="#000" text-anchor="middle" font-weight="bold" stroke="#000" stroke-width="0.3">+</text>
<text x="213.10" y="992.11" font-size="7.6" fill="#000" text-anchor="middle" font-weight="bold" stroke="#000" stroke-width="0.3">–</text>
<circle cx="205.30" cy="990.60" r="3.2" fill="#fff" stroke="#666" stroke-width="0.7"/>
<text x="241.00" y="992.11" font-size="7.6" fill="#000" text-anchor="middle" font-weight="bold" stroke="#000" stroke-width="0.3">–</text>
<text x="257.50" y="993.01" font-size="7.6" fill="#000" text-anchor="middle" font-weight="bold" stroke="#000" stroke-width="0.3">+</text>
<circle cx="249.50" cy="990.60" r="3.2" fill="#fff" stroke="#666" stroke-width="0.7"/>
<rect x="193.00" y="1001.00" width="67.00" height="8.00" fill="#000" stroke="none" stroke-width="1" />
<text x="253.00" y="1007.60" font-size="6.4" fill="#fff" text-anchor="middle" font-weight="bold" textLength="11" lengthAdjust="spacingAndGlyphs">(8Ω)</text>
<rect x="280.60" y="998.00" width="46.00" height="12.60" fill="#000" stroke="none" stroke-width="1" />
<rect x="336.60" y="1000.30" width="36.00" height="8.40" fill="#000" stroke="none" stroke-width="1" />
<rect x="384.60" y="1000.30" width="35.40" height="8.40" fill="#000" stroke="none" stroke-width="1" />
<rect x="425.00" y="1000.30" width="36.00" height="8.40" fill="#000" stroke="none" stroke-width="1" />
<line x1="326.60" y1="1005.50" x2="425.60" y2="1005.50" stroke="#000" stroke-width="1" />
<rect x="878.00" y="1000.00" width="31.00" height="9.00" fill="#000" stroke="none" stroke-width="1" />
<path d="M284.00,932.60 C284.00,929.00 286.60,928.20 289.60,928.00 L291.80,926.00 Q292.60,925.40 294.00,925.40 L310.80,925.40 Q312.20,925.40 313.00,926.00 L315.20,928.00 C318.20,928.20 320.80,929.00 320.80,932.60 C320.80,936.20 318.20,937.00 315.20,937.20 L311.60,939.00 Q310.80,939.80 309.40,939.80 L295.40,939.80 Q294.00,939.80 293.20,939.00 L289.60,937.20 C286.60,937.00 284.00,936.20 284.00,932.60 Z" fill="#fff" stroke="#000" stroke-width="0.9" />
<circle cx="287.80" cy="932.60" r="3.3" fill="#fff" stroke="#000" stroke-width="0.8"/>
<circle cx="287.80" cy="932.60" r="1.9999999999999998" fill="#e0e0e0" stroke="#333" stroke-width="0.6"/>
<line x1="286.40" y1="931.20" x2="289.20" y2="934.00" stroke="#000" stroke-width="0.6" />
<line x1="286.40" y1="934.00" x2="289.20" y2="931.20" stroke="#000" stroke-width="0.6" />
<circle cx="317.00" cy="932.60" r="3.3" fill="#fff" stroke="#000" stroke-width="0.8"/>
<circle cx="317.00" cy="932.60" r="1.9999999999999998" fill="#e0e0e0" stroke="#333" stroke-width="0.6"/>
<line x1="315.60" y1="931.20" x2="318.40" y2="934.00" stroke="#000" stroke-width="0.6" />
<line x1="315.60" y1="934.00" x2="318.40" y2="931.20" stroke="#000" stroke-width="0.6" />
<path d="M294.20,927.60 L310.60,927.60 Q312.40,927.60 312.00,929.40 L310.60,936.20 Q310.20,937.60 308.60,937.60 L296.20,937.60 Q294.60,937.60 294.20,936.20 L292.80,929.40 Q292.40,927.60 294.20,927.60 Z" fill="#fff" stroke="#000" stroke-width="0.9" />
<rect x="295.95" y="930.55" width="0.9" height="0.9" fill="#555"/>
<rect x="298.95" y="930.55" width="0.9" height="0.9" fill="#555"/>
<rect x="301.95" y="930.55" width="0.9" height="0.9" fill="#555"/>
<rect x="304.95" y="930.55" width="0.9" height="0.9" fill="#555"/>
<rect x="307.95" y="930.55" width="0.9" height="0.9" fill="#555"/>
<rect x="297.45" y="933.75" width="0.9" height="0.9" fill="#555"/>
<rect x="300.45" y="933.75" width="0.9" height="0.9" fill="#555"/>
<rect x="303.45" y="933.75" width="0.9" height="0.9" fill="#555"/>
<rect x="306.45" y="933.75" width="0.9" height="0.9" fill="#555"/>
<path d="M337.00,929.20 L334.00,929.20 A3,3 0 0 0 334.00,935.20 L337.00,935.20 Z" fill="#fff" stroke="#000" stroke-width="0.9" />
<path d="M368.20,929.20 L371.20,929.20 A3,3 0 0 1 371.20,935.20 L368.20,935.20 Z" fill="#fff" stroke="#000" stroke-width="0.9" />
<circle cx="334.20" cy="932.20" r="1.2" fill="#fff" stroke="#000" stroke-width="0.7"/>
<circle cx="371.00" cy="932.20" r="1.2" fill="#fff" stroke="#000" stroke-width="0.7"/>
<rect x="337.50" y="925.50" width="32.00" height="13.00" fill="#fff" stroke="#000" stroke-width="0.9" rx="2" />
<rect x="338.50" y="927.50" width="29.00" height="10.00" fill="#fff" stroke="#000" stroke-width="0.9" rx="1" />
<rect x="340.60" y="928.80" width="25.60" height="6.80" fill="#000" stroke="none" stroke-width="1" />
<rect x="360.80" y="930.00" width="0.60" height="4.40" fill="#fff" stroke="none" stroke-width="1" />
<path d="M384.60,932.60 C384.60,929.00 387.20,928.20 390.20,928.00 L392.40,926.00 Q393.20,925.40 394.60,925.40 L411.00,925.40 Q412.40,925.40 413.20,926.00 L415.40,928.00 C418.40,928.20 421.00,929.00 421.00,932.60 C421.00,936.20 418.40,937.00 415.40,937.20 L411.80,939.00 Q411.00,939.80 409.60,939.80 L396.00,939.80 Q394.60,939.80 393.80,939.00 L390.20,937.20 C387.20,937.00 384.60,936.20 384.60,932.60 Z" fill="#fff" stroke="#000" stroke-width="0.9" />
<circle cx="388.40" cy="932.60" r="3.3" fill="#fff" stroke="#000" stroke-width="0.8"/>
<circle cx="388.40" cy="932.60" r="1.9999999999999998" fill="#e0e0e0" stroke="#333" stroke-width="0.6"/>
<line x1="387.00" y1="931.20" x2="389.80" y2="934.00" stroke="#000" stroke-width="0.6" />
<line x1="387.00" y1="934.00" x2="389.80" y2="931.20" stroke="#000" stroke-width="0.6" />
<circle cx="417.20" cy="932.60" r="3.3" fill="#fff" stroke="#000" stroke-width="0.8"/>
<circle cx="417.20" cy="932.60" r="1.9999999999999998" fill="#e0e0e0" stroke="#333" stroke-width="0.6"/>
<line x1="415.80" y1="931.20" x2="418.60" y2="934.00" stroke="#000" stroke-width="0.6" />
<line x1="415.80" y1="934.00" x2="418.60" y2="931.20" stroke="#000" stroke-width="0.6" />
<path d="M394.80,927.60 L410.80,927.60 Q412.60,927.60 412.20,929.40 L410.80,936.20 Q410.40,937.60 408.80,937.60 L396.80,937.60 Q395.20,937.60 394.80,936.20 L393.40,929.40 Q393.00,927.60 394.80,927.60 Z" fill="#fff" stroke="#000" stroke-width="0.9" />
<rect x="395.85" y="929.55" width="0.9" height="0.9" fill="#555"/>
<rect x="399.10" y="929.55" width="0.9" height="0.9" fill="#555"/>
<rect x="402.35" y="929.55" width="0.9" height="0.9" fill="#555"/>
<rect x="405.60" y="929.55" width="0.9" height="0.9" fill="#555"/>
<rect x="408.85" y="929.55" width="0.9" height="0.9" fill="#555"/>
<rect x="395.85" y="932.15" width="0.9" height="0.9" fill="#555"/>
<rect x="399.10" y="932.15" width="0.9" height="0.9" fill="#555"/>
<rect x="402.35" y="932.15" width="0.9" height="0.9" fill="#555"/>
<rect x="405.60" y="932.15" width="0.9" height="0.9" fill="#555"/>
<rect x="408.85" y="932.15" width="0.9" height="0.9" fill="#555"/>
<rect x="395.85" y="934.75" width="0.9" height="0.9" fill="#555"/>
<rect x="399.10" y="934.75" width="0.9" height="0.9" fill="#555"/>
<rect x="402.35" y="934.75" width="0.9" height="0.9" fill="#555"/>
<rect x="405.60" y="934.75" width="0.9" height="0.9" fill="#555"/>
<rect x="408.85" y="934.75" width="0.9" height="0.9" fill="#555"/>
<circle cx="443.60" cy="933.00" r="7.4" fill="#fff" stroke="#000" stroke-width="0.9"/>
<circle cx="443.60" cy="933.20" r="6.2" fill="#fff" stroke="#222" stroke-width="0.7"/>
<circle cx="443.60" cy="934.00" r="4.8" fill="#fff" stroke="#111" stroke-width="0.9"/>
<circle cx="443.80" cy="934.80" r="3.0" fill="#fff" stroke="#000" stroke-width="1.0"/>
<circle cx="443.80" cy="934.90" r="1.0" fill="#fff" stroke="#222" stroke-width="0.7"/>
<rect x="286.50" y="961.50" width="4.00" height="4.00" fill="#fff" stroke="#000" stroke-width="0.9" />
<rect x="315.50" y="961.50" width="4.00" height="4.00" fill="#fff" stroke="#000" stroke-width="0.9" />
<path d="M291.60,961.40 L291.60,964.40 Q292.00,967.40 295.20,967.40 L310.80,967.40 Q314.00,967.40 314.40,964.40 L314.40,961.40" fill="#d2d2d2" stroke="#555" stroke-width="0.9" />
<rect x="334.50" y="961.50" width="4.00" height="4.00" fill="#fff" stroke="#000" stroke-width="0.9" />
<rect x="369.50" y="961.50" width="5.00" height="4.00" fill="#fff" stroke="#000" stroke-width="0.9" />
<path d="M339.60,961.40 L339.60,964.40 Q340.00,967.40 343.20,967.40 L365.00,967.40 Q368.20,967.40 368.60,964.40 L368.60,961.40" fill="#d2d2d2" stroke="#555" stroke-width="0.9" />
<rect x="388.50" y="961.50" width="4.00" height="4.00" fill="#fff" stroke="#000" stroke-width="0.9" />
<rect x="416.50" y="961.50" width="4.00" height="4.00" fill="#fff" stroke="#000" stroke-width="0.9" />
<path d="M393.60,961.40 L393.60,964.40 Q394.00,967.40 397.20,967.40 L411.80,967.40 Q415.00,967.40 415.40,964.40 L415.40,961.40" fill="#d2d2d2" stroke="#555" stroke-width="0.9" />
<path d="M437.20,961.40 L437.20,971.40 Q437.40,973.40 440.00,973.40 L447.00,973.40 Q449.60,973.40 449.80,971.40 L449.80,961.40" fill="#fff" stroke="#222" stroke-width="0.9" />
<path d="M299.40,979.30 L308.60,979.30 Q311.00,979.30 310.00,981.40 Q309.00,984.10 307.00,984.10 L301.00,984.10 Q299.00,984.10 298.00,981.40 Q297.00,979.30 299.40,979.30 Z" fill="#fff" stroke="#000" stroke-width="1.0" />
<path d="M299.80,980.60 L308.20,980.60 L307.00,982.80 L301.00,982.80 Z" fill="#ccc" stroke="#333" stroke-width="0.6" />
<rect x="397.80" y="978.70" width="13.20" height="5.80" fill="#fff" stroke="#000" stroke-width="1.0" rx="2.9" />
<rect x="399.60" y="980.30" width="9.60" height="2.60" fill="#ccc" stroke="#333" stroke-width="0.6" rx="1.2" />
<line x1="401.20" y1="980.40" x2="401.20" y2="982.80" stroke="#333" stroke-width="0.5" />
<line x1="402.80" y1="980.40" x2="402.80" y2="982.80" stroke="#333" stroke-width="0.5" />
<line x1="404.40" y1="980.40" x2="404.40" y2="982.80" stroke="#333" stroke-width="0.5" />
<line x1="406.00" y1="980.40" x2="406.00" y2="982.80" stroke="#333" stroke-width="0.5" />
<line x1="407.60" y1="980.40" x2="407.60" y2="982.80" stroke="#333" stroke-width="0.5" />
<rect x="346.50" y="978.50" width="16.00" height="6.00" fill="#fff" stroke="#000" stroke-width="1" rx="1" />
<rect x="348.20" y="979.80" width="13.00" height="3.80" fill="#000" stroke="none" stroke-width="1" />
<circle cx="443.60" cy="981.60" r="3.2" fill="#fff" stroke="#000" stroke-width="1.7"/>
<path d="M560.2,914.40 L561.4,912.50 L851.80,912.50 L852.80,914.40" fill="none" stroke="#000" stroke-width="1" />
<line x1="571.40" y1="948.50" x2="844.00" y2="948.50" stroke="#000" stroke-width="1" />
<line x1="554.20" y1="917.40" x2="559.80" y2="909.60" stroke="#000" stroke-width="0.9" />
<path d="M554.3,917.40 L568.3,917.40 L571.3,920.20 L571.3,949.00 Q571.3,953.60 567,953.60 L554.3,953.60 Z" fill="#fff" stroke="#000" stroke-width="0.9" />
<line x1="571.50" y1="920.60" x2="571.50" y2="948.60" stroke="#aaa" stroke-width="1.1" />
<path d="M560.2,914.40 L568.3,914.40 L571.5,917.60 L571.5,920.40" fill="none" stroke="#000" stroke-width="1.2" />
<line x1="568.50" y1="914.20" x2="568.50" y2="917.40" stroke="#000" stroke-width="1.2" />
<ellipse cx="562.60" cy="932.80" rx="4.9" ry="4.1" fill="#fff" stroke="#000" stroke-width="0.9" />
<rect x="560.50" y="930.90" width="4.20" height="3.80" fill="#555" stroke="#222" stroke-width="0.6" rx="0.8" />
<line x1="559.40" y1="930.40" x2="560.60" y2="931.20" stroke="#000" stroke-width="0.7" />
<line x1="565.80" y1="930.40" x2="564.60" y2="931.20" stroke="#000" stroke-width="0.7" />
<line x1="559.40" y1="935.20" x2="560.60" y2="934.40" stroke="#000" stroke-width="0.7" />
<line x1="565.80" y1="935.20" x2="564.60" y2="934.40" stroke="#000" stroke-width="0.7" />
<line x1="859.10" y1="917.40" x2="853.50" y2="909.60" stroke="#000" stroke-width="0.9" />
<path d="M858.90,917.40 L846.80,917.40 L844.10,921.20 L844.10,950.20 L846.80,953.40 L858.90,953.40 Z" fill="#fff" stroke="#000" stroke-width="0.9" />
<path d="M852.80,914.40 L844.60,914.40 L844.60,921.00" fill="none" stroke="#000" stroke-width="1.2" />
<line x1="846.80" y1="917.20" x2="844.80" y2="914.60" stroke="#000" stroke-width="0.8" />
<ellipse cx="851.80" cy="932.80" rx="4.9" ry="4.1" fill="#fff" stroke="#000" stroke-width="0.9" />
<rect x="849.70" y="930.90" width="4.20" height="3.80" fill="#555" stroke="#222" stroke-width="0.6" rx="0.8" />
<line x1="848.60" y1="930.40" x2="849.80" y2="931.20" stroke="#000" stroke-width="0.7" />
<line x1="855.00" y1="930.40" x2="853.80" y2="931.20" stroke="#000" stroke-width="0.7" />
<line x1="848.60" y1="935.20" x2="849.80" y2="934.40" stroke="#000" stroke-width="0.7" />
<line x1="855.00" y1="935.20" x2="853.80" y2="934.40" stroke="#000" stroke-width="0.7" />
<circle cx="589.10" cy="932.60" r="8.3" fill="#fff" stroke="#111" stroke-width="0.8"/>
<circle cx="589.10" cy="932.90" r="7.0" fill="#fff" stroke="#444" stroke-width="0.6"/>
<circle cx="589.10" cy="934.00" r="5.4" fill="#fff" stroke="#222" stroke-width="0.7"/>
<circle cx="589.10" cy="934.60" r="3.9" fill="#fff" stroke="#444" stroke-width="0.6"/>
<path d="M587.60,934.80 L589.10,933.40 L590.60,934.80 L589.10,936.20 Z" fill="#fff" stroke="#333" stroke-width="0.6" />
<circle cx="616.60" cy="932.60" r="8.3" fill="#fff" stroke="#111" stroke-width="0.8"/>
<circle cx="616.60" cy="932.90" r="7.0" fill="#fff" stroke="#444" stroke-width="0.6"/>
<circle cx="616.60" cy="934.00" r="5.4" fill="#fff" stroke="#222" stroke-width="0.7"/>
<circle cx="616.60" cy="934.60" r="3.9" fill="#fff" stroke="#444" stroke-width="0.6"/>
<path d="M615.10,934.80 L616.60,933.40 L618.10,934.80 L616.60,936.20 Z" fill="#fff" stroke="#333" stroke-width="0.6" />
<circle cx="653.30" cy="931.60" r="10.7" fill="#c8c8c8" stroke="#333" stroke-width="0.7"/>
<circle cx="653.30" cy="931.60" r="9.1" fill="#fff" stroke="#222" stroke-width="0.8"/>
<rect x="651.40" y="922.60" width="3.8" height="4.2" fill="#fff" stroke="#333" stroke-width="0.7"/>
<rect x="650.70" y="935.20" width="5.2" height="5.6" fill="#fff" stroke="#000" stroke-width="0.9"/>
<rect x="644.90" y="934.60" width="5.6" height="1.2" fill="#222"/>
<rect x="656.10" y="934.60" width="5.6" height="1.2" fill="#222"/>
<rect x="648.20" y="927.40" width="2.6" height="1.4" fill="#000"/>
<rect x="655.80" y="927.40" width="2.6" height="1.4" fill="#000"/>
<rect x="646.60" y="932.50" width="2.6" height="1.4" fill="#000"/>
<rect x="657.50" y="932.50" width="2.6" height="1.4" fill="#000"/>
<path d="M699.80,921.00 L759.00,921.00 Q761.40,921.00 761.40,923.40 L761.40,941.80 Q761.40,944.20 759.00,944.20 L706.60,944.20 Q704.20,944.20 703.50,941.80 L697.20,923.40 Q696.80,921.00 699.80,921.00 Z" fill="#b4b4b4" stroke="#000" stroke-width="0.8" />
<path d="M701.57,922.90 L757.90,922.90 Q759.50,922.90 759.50,924.50 L759.50,940.70 Q759.50,942.30 757.90,942.30 L707.03,942.30 Q705.43,942.30 704.73,940.70 L699.76,924.50 Q699.37,922.90 701.57,922.90 Z" fill="#fff" stroke="#000" stroke-width="0.8" />
<rect x="705.90" y="927.30" width="5.33" height="1.4" fill="#000"/>
<rect x="711.23" y="927.30" width="5.33" height="1.4" fill="#000"/>
<rect x="716.56" y="927.30" width="5.33" height="1.4" fill="#000"/>
<rect x="721.89" y="927.30" width="5.33" height="1.4" fill="#000"/>
<rect x="727.22" y="927.30" width="5.33" height="1.4" fill="#000"/>
<rect x="732.55" y="927.30" width="5.33" height="1.4" fill="#000"/>
<rect x="737.88" y="927.30" width="5.33" height="1.4" fill="#000"/>
<rect x="743.21" y="927.30" width="5.33" height="1.4" fill="#000"/>
<rect x="748.54" y="927.30" width="5.33" height="1.4" fill="#000"/>
<rect x="705.15" y="924.80" width="1.5" height="6.4" rx="0.4" fill="#000"/>
<rect x="704.00" y="927.10" width="3.8" height="1.8" rx="0.3" fill="#000"/>
<rect x="709.93" y="925.10" width="2.6" height="5.8" rx="0.8" fill="#fff" stroke="#000" stroke-width="0.9"/>
<rect x="715.26" y="925.10" width="2.6" height="5.8" rx="0.8" fill="#fff" stroke="#000" stroke-width="0.9"/>
<rect x="720.59" y="925.10" width="2.6" height="5.8" rx="0.8" fill="#fff" stroke="#000" stroke-width="0.9"/>
<rect x="726.47" y="924.80" width="1.5" height="6.4" rx="0.4" fill="#000"/>
<rect x="725.32" y="927.10" width="3.8" height="1.8" rx="0.3" fill="#000"/>
<rect x="731.25" y="925.10" width="2.6" height="5.8" rx="0.8" fill="#fff" stroke="#000" stroke-width="0.9"/>
<rect x="736.58" y="925.10" width="2.6" height="5.8" rx="0.8" fill="#fff" stroke="#000" stroke-width="0.9"/>
<rect x="742.46" y="924.80" width="1.5" height="6.4" rx="0.4" fill="#000"/>
<rect x="741.31" y="927.10" width="3.8" height="1.8" rx="0.3" fill="#000"/>
<rect x="747.24" y="925.10" width="2.6" height="5.8" rx="0.8" fill="#fff" stroke="#000" stroke-width="0.9"/>
<rect x="752.57" y="925.10" width="2.6" height="5.8" rx="0.8" fill="#fff" stroke="#000" stroke-width="0.9"/>
<rect x="708.20" y="935.40" width="5.33" height="1.4" fill="#000"/>
<rect x="713.53" y="935.40" width="5.33" height="1.4" fill="#000"/>
<rect x="724.19" y="935.40" width="5.33" height="1.4" fill="#000"/>
<rect x="729.52" y="935.40" width="5.33" height="1.4" fill="#000"/>
<rect x="734.85" y="935.40" width="5.33" height="1.4" fill="#000"/>
<rect x="740.18" y="935.40" width="5.33" height="1.4" fill="#000"/>
<rect x="745.51" y="935.40" width="5.33" height="1.4" fill="#000"/>
<rect x="750.84" y="935.40" width="5.33" height="1.4" fill="#000"/>
<rect x="706.90" y="933.20" width="2.6" height="5.8" rx="0.8" fill="#fff" stroke="#000" stroke-width="0.9"/>
<rect x="712.23" y="933.20" width="2.6" height="5.8" rx="0.8" fill="#fff" stroke="#000" stroke-width="0.9"/>
<rect x="718.11" y="932.90" width="1.5" height="6.4" rx="0.4" fill="#000"/>
<rect x="716.96" y="935.20" width="3.8" height="1.8" rx="0.3" fill="#000"/>
<rect x="723.44" y="932.90" width="1.5" height="6.4" rx="0.4" fill="#000"/>
<rect x="722.29" y="935.20" width="3.8" height="1.8" rx="0.3" fill="#000"/>
<rect x="728.22" y="933.20" width="2.6" height="5.8" rx="0.8" fill="#fff" stroke="#000" stroke-width="0.9"/>
<rect x="733.55" y="933.20" width="2.6" height="5.8" rx="0.8" fill="#fff" stroke="#000" stroke-width="0.9"/>
<rect x="739.43" y="932.90" width="1.5" height="6.4" rx="0.4" fill="#000"/>
<rect x="738.28" y="935.20" width="3.8" height="1.8" rx="0.3" fill="#000"/>
<rect x="744.21" y="933.20" width="2.6" height="5.8" rx="0.8" fill="#fff" stroke="#000" stroke-width="0.9"/>
<rect x="749.54" y="933.20" width="2.6" height="5.8" rx="0.8" fill="#fff" stroke="#000" stroke-width="0.9"/>
<rect x="755.42" y="932.90" width="1.5" height="6.4" rx="0.4" fill="#000"/>
<rect x="754.27" y="935.20" width="3.8" height="1.8" rx="0.3" fill="#000"/>
<path d="M772.40,921.00 L831.60,921.00 Q834.00,921.00 834.00,923.40 L834.00,941.80 Q834.00,944.20 831.60,944.20 L779.20,944.20 Q776.80,944.20 776.10,941.80 L769.80,923.40 Q769.40,921.00 772.40,921.00 Z" fill="#b4b4b4" stroke="#000" stroke-width="0.8" />
<path d="M774.17,922.90 L830.50,922.90 Q832.10,922.90 832.10,924.50 L832.10,940.70 Q832.10,942.30 830.50,942.30 L779.63,942.30 Q778.03,942.30 777.33,940.70 L772.37,924.50 Q771.97,922.90 774.17,922.90 Z" fill="#fff" stroke="#000" stroke-width="0.8" />
<rect x="778.50" y="927.30" width="5.33" height="1.4" fill="#000"/>
<rect x="783.83" y="927.30" width="5.33" height="1.4" fill="#000"/>
<rect x="789.16" y="927.30" width="5.33" height="1.4" fill="#000"/>
<rect x="794.49" y="927.30" width="5.33" height="1.4" fill="#000"/>
<rect x="805.15" y="927.30" width="5.33" height="1.4" fill="#000"/>
<rect x="810.48" y="927.30" width="5.33" height="1.4" fill="#000"/>
<rect x="815.81" y="927.30" width="5.33" height="1.4" fill="#000"/>
<rect x="821.14" y="927.30" width="5.33" height="1.4" fill="#000"/>
<rect x="777.20" y="925.10" width="2.6" height="5.8" rx="0.8" fill="#fff" stroke="#000" stroke-width="0.9"/>
<rect x="783.08" y="924.80" width="1.5" height="6.4" rx="0.4" fill="#000"/>
<rect x="781.93" y="927.10" width="3.8" height="1.8" rx="0.3" fill="#000"/>
<rect x="787.86" y="925.10" width="2.6" height="5.8" rx="0.8" fill="#fff" stroke="#000" stroke-width="0.9"/>
<rect x="793.19" y="925.10" width="2.6" height="5.8" rx="0.8" fill="#fff" stroke="#000" stroke-width="0.9"/>
<rect x="799.07" y="924.80" width="1.5" height="6.4" rx="0.4" fill="#000"/>
<rect x="797.92" y="927.10" width="3.8" height="1.8" rx="0.3" fill="#000"/>
<rect x="804.40" y="924.80" width="1.5" height="6.4" rx="0.4" fill="#000"/>
<rect x="803.25" y="927.10" width="3.8" height="1.8" rx="0.3" fill="#000"/>
<rect x="809.18" y="925.10" width="2.6" height="5.8" rx="0.8" fill="#fff" stroke="#000" stroke-width="0.9"/>
<rect x="814.51" y="925.10" width="2.6" height="5.8" rx="0.8" fill="#fff" stroke="#000" stroke-width="0.9"/>
<rect x="820.39" y="924.80" width="1.5" height="6.4" rx="0.4" fill="#000"/>
<rect x="819.24" y="927.10" width="3.8" height="1.8" rx="0.3" fill="#000"/>
<rect x="825.17" y="925.10" width="2.6" height="5.8" rx="0.8" fill="#fff" stroke="#000" stroke-width="0.9"/>
<rect x="780.80" y="935.40" width="5.33" height="1.4" fill="#000"/>
<rect x="786.13" y="935.40" width="5.33" height="1.4" fill="#000"/>
<rect x="791.46" y="935.40" width="5.33" height="1.4" fill="#000"/>
<rect x="802.12" y="935.40" width="5.33" height="1.4" fill="#000"/>
<rect x="807.45" y="935.40" width="5.33" height="1.4" fill="#000"/>
<rect x="812.78" y="935.40" width="5.33" height="1.4" fill="#000"/>
<rect x="818.11" y="935.40" width="5.33" height="1.4" fill="#000"/>
<rect x="823.44" y="935.40" width="5.33" height="1.4" fill="#000"/>
<rect x="780.05" y="932.90" width="1.5" height="6.4" rx="0.4" fill="#000"/>
<rect x="778.90" y="935.20" width="3.8" height="1.8" rx="0.3" fill="#000"/>
<rect x="784.83" y="933.20" width="2.6" height="5.8" rx="0.8" fill="#fff" stroke="#000" stroke-width="0.9"/>
<rect x="790.16" y="933.20" width="2.6" height="5.8" rx="0.8" fill="#fff" stroke="#000" stroke-width="0.9"/>
<rect x="796.04" y="932.90" width="1.5" height="6.4" rx="0.4" fill="#000"/>
<rect x="794.89" y="935.20" width="3.8" height="1.8" rx="0.3" fill="#000"/>
<rect x="801.37" y="932.90" width="1.5" height="6.4" rx="0.4" fill="#000"/>
<rect x="800.22" y="935.20" width="3.8" height="1.8" rx="0.3" fill="#000"/>
<rect x="806.15" y="933.20" width="2.6" height="5.8" rx="0.8" fill="#fff" stroke="#000" stroke-width="0.9"/>
<rect x="811.48" y="933.20" width="2.6" height="5.8" rx="0.8" fill="#fff" stroke="#000" stroke-width="0.9"/>
<rect x="817.36" y="932.90" width="1.5" height="6.4" rx="0.4" fill="#000"/>
<rect x="816.21" y="935.20" width="3.8" height="1.8" rx="0.3" fill="#000"/>
<rect x="822.14" y="933.20" width="2.6" height="5.8" rx="0.8" fill="#fff" stroke="#000" stroke-width="0.9"/>
<rect x="827.47" y="933.20" width="2.6" height="5.8" rx="0.8" fill="#fff" stroke="#000" stroke-width="0.9"/>
<rect x="870.50" y="917.50" width="44.00" height="28.00" fill="#fff" stroke="#000" stroke-width="0.9" rx="4.5" />
<rect x="871.80" y="918.20" width="41.20" height="26.20" fill="none" stroke="#888" stroke-width="0.6" rx="3.6" />
<path d="M875.20,920.60 L910.00,920.60 L910.00,935.40 L904.00,941.40 L881.20,941.40 L875.20,935.40 Z" fill="#fff" stroke="#000" stroke-width="1.1" />
<path d="M876.80,922.00 L908.40,922.00" fill="none" stroke="#999" stroke-width="0.6" />
<rect x="881.30" y="924.40" width="2.6" height="6.4" fill="#fff" stroke="#000" stroke-width="0.9"/>
<rect x="901.30" y="924.40" width="2.6" height="6.4" fill="#fff" stroke="#000" stroke-width="0.9"/>
<rect x="891.30" y="933.40" width="2.6" height="6.4" fill="#fff" stroke="#000" stroke-width="0.9"/>
<rect x="555.40" y="960.40" width="303.50" height="10.00" fill="#fff" stroke="none" stroke-width="1" />
<line x1="555.00" y1="960.50" x2="859.40" y2="960.50" stroke="#000" stroke-width="1" />
<line x1="559.40" y1="964.00" x2="854.00" y2="964.00" stroke="#999" stroke-width="1.4" />
<path d="M555.5,960.40 L555.5,970.30 L573.5,970.30 L573.5,967.30 L559.6,967.30" fill="none" stroke="#000" stroke-width="1" />
<path d="M559.6,964.00 L559.6,967.30" fill="none" stroke="#555" stroke-width="0.9" />
<line x1="562.60" y1="964.00" x2="562.60" y2="967.30" stroke="#000" stroke-width="0.8" />
<line x1="569.40" y1="964.00" x2="569.40" y2="967.30" stroke="#000" stroke-width="0.8" />
<path d="M560.2,973.50 L562.4,972.30 L570.2,972.30 L572.4,973.50 L570.2,974.70 L562.4,974.70 Z" fill="#fff" stroke="#111" stroke-width="0.8" />
<path d="M858.90,960.40 L858.90,970.30 L840.90,970.30 L840.90,967.30 L853.00,967.30" fill="none" stroke="#000" stroke-width="1" />
<path d="M853.00,967.30 Q854.80,967.30 854.80,965.60 Q854.80,964.00 853.00,964.00" fill="none" stroke="#888" stroke-width="1.2" />
<rect x="701.50" y="964.50" width="57.00" height="6.00" fill="#fff" stroke="#000" stroke-width="1" />
<rect x="773.50" y="964.50" width="58.00" height="6.00" fill="#fff" stroke="#000" stroke-width="1" />
<path d="M886.00,978.00 Q886.00,977.00 887.00,977.00 L898.60,977.00 Q899.60,977.00 899.60,978.00 L899.60,981.60 Q899.40,985.80 895.40,985.80 L890.20,985.80 Q886.20,985.80 886.00,981.60 Z" fill="#fff" stroke="#000" stroke-width="1.1" />
<rect x="888.60" y="979.00" width="2.00" height="2.80" fill="#000" stroke="none" stroke-width="1" />
<rect x="895.00" y="979.00" width="2.00" height="2.80" fill="#000" stroke="none" stroke-width="1" />
<rect x="891.80" y="982.00" width="2.00" height="2.60" fill="#000" stroke="none" stroke-width="1" />
<path d="M770.4,451.8 L621,452.6 Q613.4,452.8 613.4,460.6 L613.4,504.4" fill="none" stroke="#000" stroke-width="2.0" />
<path d="M765.2,412.4 C768.8,417 770.2,424 770,432 L769.4,452" fill="none" stroke="#000" stroke-width="2.1" />
<path d="M763.4,415.4 C766,420 766.6,426 766.6,433 L766.2,451" fill="none" stroke="#000" stroke-width="1.3" />
<path d="M761,419.2 C763,423 763.6,428 763.6,434 L763.2,451" fill="none" stroke="#000" stroke-width="1.3" />
<rect x="713.60" y="372.30" width="35.00" height="7.30" fill="url(#gPlugTop)" stroke="#666" stroke-width="0.6" />
<line x1="716.50" y1="372.60" x2="716.50" y2="379.40" stroke="#a8a8a8" stroke-width="0.5" />
<line x1="719.40" y1="372.60" x2="719.40" y2="379.40" stroke="#a8a8a8" stroke-width="0.5" />
<line x1="722.30" y1="372.60" x2="722.30" y2="379.40" stroke="#a8a8a8" stroke-width="0.5" />
<line x1="725.20" y1="372.60" x2="725.20" y2="379.40" stroke="#a8a8a8" stroke-width="0.5" />
<line x1="728.10" y1="372.60" x2="728.10" y2="379.40" stroke="#a8a8a8" stroke-width="0.5" />
<line x1="731.00" y1="372.60" x2="731.00" y2="379.40" stroke="#a8a8a8" stroke-width="0.5" />
<line x1="733.90" y1="372.60" x2="733.90" y2="379.40" stroke="#a8a8a8" stroke-width="0.5" />
<line x1="736.80" y1="372.60" x2="736.80" y2="379.40" stroke="#a8a8a8" stroke-width="0.5" />
<line x1="739.70" y1="372.60" x2="739.70" y2="379.40" stroke="#a8a8a8" stroke-width="0.5" />
<line x1="742.60" y1="372.60" x2="742.60" y2="379.40" stroke="#a8a8a8" stroke-width="0.5" />
<line x1="745.50" y1="372.60" x2="745.50" y2="379.40" stroke="#a8a8a8" stroke-width="0.5" />
<path d="M709.4,379.5 L751.8,379.5 L751.8,401.4 L743.4,415.8 L709.4,397.6 Z" fill="url(#gPlug)" stroke="#777" stroke-width="0.7" />
<path d="M709.6,394.6 L744.6,413.4 L743.4,415.8 L709.4,397.6 Z" fill="#d6d6d6" stroke="none" stroke-width="1" />
<g stroke="#4a4a4a" stroke-width="0.55">
<line x1="710.60" y1="398.30" x2="713.40" y2="395.90"/>
<line x1="712.46" y1="399.29" x2="715.26" y2="396.89"/>
<line x1="714.33" y1="400.29" x2="717.12" y2="397.89"/>
<line x1="716.19" y1="401.28" x2="718.99" y2="398.88"/>
<line x1="718.05" y1="402.27" x2="720.85" y2="399.88"/>
<line x1="719.91" y1="403.27" x2="722.71" y2="400.87"/>
<line x1="721.77" y1="404.26" x2="724.57" y2="401.86"/>
<line x1="723.64" y1="405.26" x2="726.44" y2="402.86"/>
<line x1="725.50" y1="406.25" x2="728.30" y2="403.85"/>
<line x1="727.36" y1="407.24" x2="730.16" y2="404.84"/>
<line x1="729.23" y1="408.24" x2="732.02" y2="405.84"/>
<line x1="731.09" y1="409.23" x2="733.89" y2="406.83"/>
<line x1="732.95" y1="410.23" x2="735.75" y2="407.83"/>
<line x1="734.81" y1="411.22" x2="737.61" y2="408.82"/>
<line x1="736.67" y1="412.21" x2="739.47" y2="409.81"/>
<line x1="738.54" y1="413.21" x2="741.34" y2="410.81"/>
<line x1="740.40" y1="414.20" x2="743.20" y2="411.80"/>
</g>
<rect x="714.40" y="384.20" width="32.40" height="5.20" fill="#dcdcdc" stroke="#444" stroke-width="0.8" />
<path d="M751.8,401.4 L761.6,408.2 L755.8,420 L743.4,415.8 Z" fill="#f0f0f0" stroke="#777" stroke-width="0.5" />
<g stroke="#555" stroke-width="0.5">
<line x1="752.21" y1="401.68" x2="743.92" y2="415.98"/>
<line x1="753.02" y1="402.25" x2="744.95" y2="416.32"/>
<line x1="753.84" y1="402.82" x2="745.98" y2="416.68"/>
<line x1="754.66" y1="403.38" x2="747.02" y2="417.03"/>
<line x1="755.48" y1="403.95" x2="748.05" y2="417.38"/>
<line x1="756.29" y1="404.52" x2="749.08" y2="417.73"/>
<line x1="757.11" y1="405.08" x2="750.12" y2="418.07"/>
<line x1="757.92" y1="405.65" x2="751.15" y2="418.43"/>
<line x1="758.74" y1="406.22" x2="752.18" y2="418.77"/>
<line x1="759.56" y1="406.78" x2="753.22" y2="419.12"/>
<line x1="760.38" y1="407.35" x2="754.25" y2="419.48"/>
<line x1="761.19" y1="407.92" x2="755.28" y2="419.82"/>
</g>
<path d="M761.6,408.2 Q764.4,410 765.8,412.8 L761,419.8 Q758.4,420.6 755.8,420 Z" fill="url(#gCone)" stroke="#aaa" stroke-width="0.5" />
<path d="M467,503.5 L484.5,503.5 L484.5,585.2" fill="none" stroke="#000" stroke-width="1" />
<line x1="467.00" y1="585.20" x2="485.00" y2="585.20" stroke="#000" stroke-width="1.6" />
<line x1="484.50" y1="543.50" x2="510.50" y2="543.50" stroke="#000" stroke-width="1" />
<rect x="510.50" y="516.50" width="168.00" height="54.00" fill="#fff" stroke="#000" stroke-width="1" />
<line x1="678.60" y1="516.00" x2="678.60" y2="571.00" stroke="#000" stroke-width="1.4" />
<path d="M582.8,504.4 L582.8,502 C582.8,493 588.4,488 598.4,488 L629.4,488 C639.4,488 645.2,493 645.2,502 L645.2,504.4" fill="none" stroke="#000" stroke-width="2.1" />
<rect x="569.50" y="533.50" width="56.00" height="27.00" fill="none" stroke="#000" stroke-width="1.1" rx="5" />
<rect x="631.50" y="533.50" width="24.00" height="27.00" fill="none" stroke="#555" stroke-width="0.9" rx="6" />
<rect x="578.00" y="557.00" width="8.60" height="8.60" fill="#fff" stroke="#aaa" stroke-width="0.7" rx="2.4" />
<rect x="590.40" y="557.00" width="14.60" height="8.60" fill="#fff" stroke="#aaa" stroke-width="0.7" rx="2.4" />
<rect x="610.40" y="557.00" width="7.80" height="8.60" fill="#fff" stroke="#aaa" stroke-width="0.7" rx="2.4" />
<rect x="636.60" y="557.00" width="16.00" height="8.60" fill="#fff" stroke="#aaa" stroke-width="0.7" rx="2.4" />
<circle cx="582.40" cy="547.20" r="7.7" fill="#505050" stroke="#000" stroke-width="1.0"/>
<circle cx="582.40" cy="548.40" r="5.6" fill="#8a8a8a" stroke="#333" stroke-width="0.7"/>
<circle cx="582.40" cy="549.00" r="4.0" fill="#9c9c9c" stroke="none" stroke-width="1"/>
<circle cx="582.40" cy="549.40" r="1.7" fill="#000" stroke="none" stroke-width="1"/>
<rect x="579.50" y="503.60" width="5.80" height="3.80" fill="#fff" stroke="#555" stroke-width="0.6" rx="1.4" />
<rect x="579.50" y="507.80" width="5.80" height="3.80" fill="#fff" stroke="#555" stroke-width="0.6" rx="1.4" />
<rect x="579.50" y="512.00" width="5.80" height="3.80" fill="#fff" stroke="#555" stroke-width="0.6" rx="1.4" />
<path d="M584.20,508.20 L582.00,508.20 L582.00,510.20 L583.80,510.20" fill="none" stroke="#111" stroke-width="1.0" />
<path d="M584.20,512.40 L582.00,512.40 L582.00,514.40 L583.80,514.40" fill="none" stroke="#111" stroke-width="1.0" />
<line x1="584.30" y1="505.00" x2="584.30" y2="507.00" stroke="#333" stroke-width="0.7" />
<rect x="579.50" y="516.00" width="5.80" height="3.80" fill="#fff" stroke="#111" stroke-width="0.8" />
<path d="M577.00,520.80 L578.40,519.60 L586.40,519.60 L587.80,520.80 L587.80,538.00 L577.00,538.00 Z" fill="#000" stroke="none" stroke-width="1" />
<rect x="579.70" y="528.00" width="5.40" height="10.00" fill="#fff" stroke="none" stroke-width="1" />
<rect x="579.70" y="520.40" width="5.40" height="1.40" fill="#fff" stroke="none" stroke-width="1" />
<rect x="579.70" y="522.90" width="5.40" height="1.40" fill="#fff" stroke="none" stroke-width="1" />
<rect x="579.70" y="525.40" width="5.40" height="1.40" fill="#fff" stroke="none" stroke-width="1" />
<rect x="581.10" y="538.00" width="2.60" height="8.80" fill="#fff" stroke="none" stroke-width="1" />
<line x1="581.10" y1="540.40" x2="583.70" y2="540.40" stroke="#444" stroke-width="0.7" />
<line x1="581.10" y1="542.90" x2="583.70" y2="542.90" stroke="#444" stroke-width="0.7" />
<line x1="581.10" y1="545.40" x2="583.70" y2="545.40" stroke="#444" stroke-width="0.7" />
<circle cx="613.20" cy="547.20" r="7.7" fill="#fff" stroke="#000" stroke-width="1.0"/>
<path d="M605.50,547.20 A7.7,7.7 0 0 1 620.90,547.20 L619.20,548.40 A6,6 0 0 0 607.20,548.40 Z" fill="#444" stroke="none" stroke-width="1" />
<circle cx="613.20" cy="548.40" r="5.6" fill="#e4e4e4" stroke="#333" stroke-width="0.7"/>
<circle cx="613.20" cy="549.00" r="4.0" fill="#aaaaaa" stroke="none" stroke-width="1"/>
<circle cx="613.20" cy="549.40" r="1.7" fill="#000" stroke="none" stroke-width="1"/>
<rect x="610.30" y="503.60" width="5.80" height="3.80" fill="#fff" stroke="#555" stroke-width="0.6" rx="1.4" />
<rect x="610.30" y="507.80" width="5.80" height="3.80" fill="#fff" stroke="#555" stroke-width="0.6" rx="1.4" />
<rect x="610.30" y="512.00" width="5.80" height="3.80" fill="#fff" stroke="#555" stroke-width="0.6" rx="1.4" />
<path d="M615.00,508.20 L612.80,508.20 L612.80,510.20 L614.60,510.20" fill="none" stroke="#111" stroke-width="1.0" />
<path d="M615.00,512.40 L612.80,512.40 L612.80,514.40 L614.60,514.40" fill="none" stroke="#111" stroke-width="1.0" />
<line x1="615.10" y1="505.00" x2="615.10" y2="507.00" stroke="#333" stroke-width="0.7" />
<rect x="610.30" y="516.00" width="5.80" height="3.80" fill="#fff" stroke="#111" stroke-width="0.8" />
<path d="M607.80,520.80 L609.20,519.60 L617.20,519.60 L618.60,520.80 L618.60,538.00 L607.80,538.00 Z" fill="#000" stroke="none" stroke-width="1" />
<rect x="610.50" y="528.00" width="5.40" height="10.00" fill="#fff" stroke="none" stroke-width="1" />
<rect x="610.50" y="520.40" width="5.40" height="1.40" fill="#fff" stroke="none" stroke-width="1" />
<rect x="610.50" y="522.90" width="5.40" height="1.40" fill="#fff" stroke="none" stroke-width="1" />
<rect x="610.50" y="525.40" width="5.40" height="1.40" fill="#fff" stroke="none" stroke-width="1" />
<rect x="611.90" y="538.00" width="2.60" height="8.80" fill="#fff" stroke="none" stroke-width="1" />
<line x1="611.90" y1="540.40" x2="614.50" y2="540.40" stroke="#444" stroke-width="0.7" />
<line x1="611.90" y1="542.90" x2="614.50" y2="542.90" stroke="#444" stroke-width="0.7" />
<line x1="611.90" y1="545.40" x2="614.50" y2="545.40" stroke="#444" stroke-width="0.7" />
<circle cx="644.80" cy="547.20" r="7.7" fill="#505050" stroke="#000" stroke-width="1.0"/>
<circle cx="644.80" cy="548.40" r="5.6" fill="#8a8a8a" stroke="#333" stroke-width="0.7"/>
<circle cx="644.80" cy="549.00" r="4.0" fill="#9c9c9c" stroke="none" stroke-width="1"/>
<circle cx="644.80" cy="549.40" r="1.7" fill="#000" stroke="none" stroke-width="1"/>
<rect x="641.90" y="503.60" width="5.80" height="3.80" fill="#fff" stroke="#555" stroke-width="0.6" rx="1.4" />
<rect x="641.90" y="507.80" width="5.80" height="3.80" fill="#fff" stroke="#555" stroke-width="0.6" rx="1.4" />
<rect x="641.90" y="512.00" width="5.80" height="3.80" fill="#fff" stroke="#555" stroke-width="0.6" rx="1.4" />
<path d="M646.60,508.20 L644.40,508.20 L644.40,510.20 L646.20,510.20" fill="none" stroke="#111" stroke-width="1.0" />
<path d="M646.60,512.40 L644.40,512.40 L644.40,514.40 L646.20,514.40" fill="none" stroke="#111" stroke-width="1.0" />
<line x1="646.70" y1="505.00" x2="646.70" y2="507.00" stroke="#333" stroke-width="0.7" />
<rect x="641.90" y="516.00" width="5.80" height="3.80" fill="#fff" stroke="#111" stroke-width="0.8" />
<path d="M639.40,520.80 L640.80,519.60 L648.80,519.60 L650.20,520.80 L650.20,538.00 L639.40,538.00 Z" fill="#000" stroke="none" stroke-width="1" />
<rect x="642.10" y="528.00" width="5.40" height="10.00" fill="#fff" stroke="none" stroke-width="1" />
<rect x="642.10" y="520.40" width="5.40" height="1.40" fill="#fff" stroke="none" stroke-width="1" />
<rect x="642.10" y="522.90" width="5.40" height="1.40" fill="#fff" stroke="none" stroke-width="1" />
<rect x="642.10" y="525.40" width="5.40" height="1.40" fill="#fff" stroke="none" stroke-width="1" />
<rect x="643.50" y="538.00" width="2.60" height="8.80" fill="#fff" stroke="none" stroke-width="1" />
<line x1="643.50" y1="540.40" x2="646.10" y2="540.40" stroke="#444" stroke-width="0.7" />
<line x1="643.50" y1="542.90" x2="646.10" y2="542.90" stroke="#444" stroke-width="0.7" />
<line x1="643.50" y1="545.40" x2="646.10" y2="545.40" stroke="#444" stroke-width="0.7" />
<g transform="translate(375,460) scale(0.078818)" fill="none" stroke="#111" stroke-linecap="round" stroke-linejoin="round">
<path d="M612,98 L470,420" stroke-width="9"/>
<path d="M750,160 L655,360" stroke-width="13"/>
<path d="M618,92 Q640,84 690,100 L755,150 Q760,160 745,165" stroke-width="12"/>
<path d="M640,118 L735,165" stroke-width="7" stroke="#555"/>
<path d="M668,150 L560,400" stroke-width="6" stroke="#666"/>
<path d="M655,362 Q700,350 745,362 L835,418" stroke-width="13"/>
<path d="M345,550 L440,500" stroke-width="10"/>
<path d="M220,565 L345,505" stroke-width="7" stroke="#444"/>
<path d="M430,548 L700,392 Q720,384 735,392" stroke-width="11"/>
<path d="M470,578 L770,405" stroke-width="9"/>
<path d="M430,548 Q440,575 470,578" stroke-width="10"/>
<path d="M560,470 L720,385" stroke-width="14" stroke="#333" stroke-dasharray="5 9"/>
<path d="M520,530 L780,390" stroke-width="6" stroke="#555"/>
<path d="M365,480 L365,455 Q400,425 440,430 L440,455 Q400,460 365,480 Z" stroke-width="8"/>
<path d="M385,495 L385,465 M410,480 L410,450" stroke-width="7"/>
<path d="M350,555 Q420,590 455,600 Q475,610 475,650 L482,900 Q484,950 450,958" stroke-width="13"/>
<path d="M800,410 Q815,420 817,450 L822,700 Q822,725 800,740 L560,930 Q510,965 450,960" stroke-width="13"/>
<path d="M835,418 Q848,430 848,460 L852,680 Q850,705 822,725" stroke-width="11"/>
<path d="M640,520 Q655,560 655,640 L645,850" stroke-width="10"/>
<path d="M625,530 Q635,600 632,700 L630,860" stroke-width="5" stroke="#666"/>
<path d="M485,850 L650,770 L660,745" stroke-width="11"/>
<path d="M525,785 L545,770 M570,765 L590,750 M605,748 L630,740" stroke-width="7" stroke="#555"/>
<path d="M700,710 L770,675 Q785,672 785,690 L782,715 Q780,730 765,738 L705,765 Q690,768 690,750 L690,730 Q690,715 700,710 Z" stroke-width="9"/>
<path d="M345,625 Q385,640 388,690 L392,900 Q390,935 360,925" stroke-width="10"/>
<path d="M240,830 L380,880 M255,875 L375,915" stroke-width="9"/>
<path d="M230,820 Q225,880 280,910 Q340,940 400,945" stroke-width="11"/>
<path d="M170,805 Q160,850 190,880 Q205,890 220,885" stroke-width="8" stroke="#444"/>
<ellipse cx="225" cy="675" rx="104" ry="112" transform="rotate(-20 225 675)" stroke-width="14"/>
<ellipse cx="232" cy="678" rx="86" ry="98" transform="rotate(-20 232 678)" stroke-width="8"/>
<ellipse cx="238" cy="680" rx="72" ry="84" transform="rotate(-20 238 680)" stroke-width="6" stroke="#555"/>
<path d="M200,640 Q180,690 240,725" stroke-width="8"/>
<path d="M280,600 Q330,640 320,720 Q315,760 290,780" stroke-width="9"/>
</g>
<g transform="translate(370,570) scale(0.098522)" fill="none" stroke="#111" stroke-linecap="round" stroke-linejoin="round">
<path d="M80,168 Q200,120 300,96 Q330,90 400,98 L880,148 Q915,152 918,170" stroke-width="7.6"/>
<path d="M918,170 L735,240 Q715,248 690,246 L600,238" stroke-width="7.6"/>
<path d="M76,170 L76,268 Q78,330 95,342" stroke-width="7.6"/>
<path d="M95,342 L430,410 M500,418 L700,442" stroke-width="6.8"/>
<path d="M76,268 L190,285 M300,318 L545,335 L710,350" stroke-width="6.8"/>
<path d="M712,252 L706,440" stroke-width="7.6"/>
<path d="M920,165 L916,300 Q912,325 890,335 L708,442" stroke-width="6.8"/>
<path d="M715,348 L890,262" stroke-width="6"/>
<path d="M740,420 L880,340" stroke-width="4.2" stroke="#777"/>
<path d="M180,180 Q200,135 430,132 Q650,140 690,190 Q700,225 640,238 Q500,250 350,222 Q210,205 180,180 Z" stroke-width="7.6"/>
<path d="M540,240 Q690,245 695,195" stroke-width="11.9"/>
<path d="M100,170 Q150,185 185,182" stroke-width="6.8"/>
<path d="M185,190 Q195,260 205,285" stroke-width="7.6"/>
<path d="M235,222 Q225,225 228,250 Q232,275 260,280 L480,312 Q505,312 512,290 L522,262 Q524,250 505,248 Z" stroke-width="7.6"/>
<path d="M250,240 L500,262" stroke-width="4.2" stroke="#666"/>
<path d="M575,262 Q560,300 552,335" stroke-width="7.6"/>
<path d="M590,250 L585,300" stroke-width="4.2" stroke="#666"/>
<ellipse cx="556" cy="380" rx="27" ry="24" stroke-width="6"/>
</g>
<path d="M588.8,983 L588.8,992 Q588.8,999.6 596.4,999.6 L610.4,999.6 Q618,999.6 618,992 L618,983" fill="none" stroke="#000" stroke-width="2.1" />
<line x1="603.10" y1="999.60" x2="603.10" y2="1057.60" stroke="#000" stroke-width="2.3" />
<line x1="653.20" y1="986.00" x2="653.20" y2="1074.00" stroke="#000" stroke-width="2.2" />
<path d="M593.60,966.00 L596.20,966.00 L596.20,972.60 Q596.00,974.80 593.60,974.80 L589.60,974.80" fill="#fff" stroke="#555" stroke-width="0.8" />
<rect x="587.10" y="941.20" width="3.00" height="7.40" fill="#fff" stroke="#333" stroke-width="0.7" />
<line x1="587.10" y1="945.40" x2="590.10" y2="945.40" stroke="#333" stroke-width="0.7" />
<path d="M583.40,948.60 L593.80,948.60 L593.80,965.20 L592.40,966.40 L584.80,966.40 L583.40,965.20 Z" fill="#000" stroke="none" stroke-width="1" />
<rect x="586.10" y="948.60" width="5.00" height="9.40" fill="#fff" stroke="none" stroke-width="1" />
<rect x="586.10" y="964.20" width="5.00" height="1.40" fill="#fff" stroke="none" stroke-width="1" />
<rect x="586.10" y="961.70" width="5.00" height="1.40" fill="#fff" stroke="none" stroke-width="1" />
<rect x="586.10" y="959.20" width="5.00" height="1.40" fill="#fff" stroke="none" stroke-width="1" />
<rect x="585.20" y="966.40" width="6.80" height="5.80" fill="#fff" stroke="#111" stroke-width="0.8" />
<line x1="585.20" y1="968.40" x2="592.00" y2="968.40" stroke="#000" stroke-width="0.8" />
<line x1="585.20" y1="970.40" x2="592.00" y2="970.40" stroke="#000" stroke-width="0.8" />
<rect x="585.70" y="972.40" width="5.80" height="3.40" fill="#fff" stroke="#555" stroke-width="0.6" rx="1.4" />
<rect x="585.70" y="976.20" width="5.80" height="3.40" fill="#fff" stroke="#555" stroke-width="0.6" rx="1.4" />
<rect x="585.70" y="980.00" width="5.80" height="3.40" fill="#fff" stroke="#555" stroke-width="0.6" rx="1.4" />
<path d="M590.40,976.60 L588.20,976.60 L588.20,978.60 L590.00,978.60" fill="none" stroke="#111" stroke-width="1.0" />
<path d="M590.40,980.40 L588.20,980.40 L588.20,982.40 L590.00,982.40" fill="none" stroke="#111" stroke-width="1.0" />
<line x1="590.50" y1="973.80" x2="590.50" y2="975.40" stroke="#333" stroke-width="0.7" />
<path d="M612.20,966.00 L609.60,966.00 L609.60,972.60 Q609.80,974.80 612.20,974.80 L616.20,974.80" fill="#fff" stroke="#555" stroke-width="0.8" />
<rect x="615.70" y="941.20" width="3.00" height="7.40" fill="#fff" stroke="#333" stroke-width="0.7" />
<line x1="615.70" y1="945.40" x2="618.70" y2="945.40" stroke="#333" stroke-width="0.7" />
<path d="M612.00,948.60 L622.40,948.60 L622.40,965.20 L621.00,966.40 L613.40,966.40 L612.00,965.20 Z" fill="#000" stroke="none" stroke-width="1" />
<rect x="614.70" y="948.60" width="5.00" height="9.40" fill="#fff" stroke="none" stroke-width="1" />
<rect x="614.70" y="964.20" width="5.00" height="1.40" fill="#fff" stroke="none" stroke-width="1" />
<rect x="614.70" y="961.70" width="5.00" height="1.40" fill="#fff" stroke="none" stroke-width="1" />
<rect x="614.70" y="959.20" width="5.00" height="1.40" fill="#fff" stroke="none" stroke-width="1" />
<rect x="613.80" y="966.40" width="6.80" height="5.80" fill="#fff" stroke="#111" stroke-width="0.8" />
<line x1="613.80" y1="968.40" x2="620.60" y2="968.40" stroke="#000" stroke-width="0.8" />
<line x1="613.80" y1="970.40" x2="620.60" y2="970.40" stroke="#000" stroke-width="0.8" />
<rect x="614.30" y="972.40" width="5.80" height="3.40" fill="#fff" stroke="#555" stroke-width="0.6" rx="1.4" />
<rect x="614.30" y="976.20" width="5.80" height="3.40" fill="#fff" stroke="#555" stroke-width="0.6" rx="1.4" />
<rect x="614.30" y="980.00" width="5.80" height="3.40" fill="#fff" stroke="#555" stroke-width="0.6" rx="1.4" />
<path d="M619.00,976.60 L616.80,976.60 L616.80,978.60 L618.60,978.60" fill="none" stroke="#111" stroke-width="1.0" />
<path d="M619.00,980.40 L616.80,980.40 L616.80,982.40 L618.60,982.40" fill="none" stroke="#111" stroke-width="1.0" />
<line x1="619.10" y1="973.80" x2="619.10" y2="975.40" stroke="#333" stroke-width="0.7" />
<rect x="648.90" y="938.40" width="8.40" height="6.40" fill="#fff" stroke="#000" stroke-width="1" />
<line x1="655.70" y1="938.90" x2="655.70" y2="944.40" stroke="#333" stroke-width="0.7" />
<path d="M646.90,944.80 L659.30,944.80 L659.30,959.40 L658.50,966.40 L647.70,966.40 L646.90,959.40 Z" fill="#fff" stroke="#000" stroke-width="1" />
<rect x="650.90" y="959.40" width="4.40" height="5.40" fill="#000" stroke="none" stroke-width="1" />
<path d="M647.70,966.40 L658.50,966.40 L656.50,986.40 L649.70,986.40 Z" fill="#fff" stroke="#000" stroke-width="0.9" />
<line x1="648.10" y1="968.80" x2="658.10" y2="968.80" stroke="#000" stroke-width="0.8" />
<line x1="648.42" y1="972.00" x2="657.78" y2="972.00" stroke="#000" stroke-width="0.8" />
<line x1="648.74" y1="975.20" x2="657.46" y2="975.20" stroke="#000" stroke-width="0.8" />
<line x1="649.06" y1="978.40" x2="657.14" y2="978.40" stroke="#000" stroke-width="0.8" />
<line x1="649.38" y1="981.60" x2="656.82" y2="981.60" stroke="#000" stroke-width="0.8" />
<line x1="649.70" y1="984.80" x2="656.50" y2="984.80" stroke="#000" stroke-width="0.8" />
<rect x="650.70" y="970.50" width="4.80" height="2.20" fill="#000" stroke="none" stroke-width="1" />
<rect x="650.70" y="975.30" width="4.80" height="2.20" fill="#000" stroke="none" stroke-width="1" />
<rect x="650.70" y="980.10" width="4.80" height="2.20" fill="#000" stroke="none" stroke-width="1" />
<path d="M585.8,1074 L585.8,1067.4 C585.8,1061.4 589.8,1057.8 596,1057.8 L610.4,1057.8 C616.6,1057.8 620.6,1061.4 620.6,1067.4 L620.6,1074" fill="none" stroke="#000" stroke-width="2.2" />
<rect x="583.20" y="1073.60" width="6.00" height="3.73" fill="#fff" stroke="#555" stroke-width="0.6" rx="1.4" />
<rect x="583.20" y="1077.73" width="6.00" height="3.73" fill="#fff" stroke="#555" stroke-width="0.6" rx="1.4" />
<rect x="583.20" y="1081.87" width="6.00" height="3.73" fill="#fff" stroke="#555" stroke-width="0.6" rx="1.4" />
<path d="M588.00,1078.13 L585.80,1078.13 L585.80,1080.13 L587.60,1080.13" fill="none" stroke="#111" stroke-width="1.0" />
<path d="M588.00,1082.27 L585.80,1082.27 L585.80,1084.27 L587.60,1084.27" fill="none" stroke="#111" stroke-width="1.0" />
<line x1="588.10" y1="1075.00" x2="588.10" y2="1076.93" stroke="#333" stroke-width="0.7" />
<rect x="582.60" y="1085.80" width="7.20" height="4.40" fill="#fff" stroke="#111" stroke-width="0.8" />
<line x1="583.80" y1="1088.00" x2="589.80" y2="1088.00" stroke="#000" stroke-width="0.8" />
<path d="M580.60,1091.40 L582.00,1090.20 L590.40,1090.20 L591.80,1091.40 L591.80,1108.40 L580.60,1108.40 Z" fill="#000" stroke="none" stroke-width="1" />
<rect x="583.30" y="1098.60" width="5.80" height="9.80" fill="#fff" stroke="none" stroke-width="1" />
<rect x="583.30" y="1091.00" width="5.80" height="1.40" fill="#fff" stroke="none" stroke-width="1" />
<rect x="583.30" y="1093.50" width="5.80" height="1.40" fill="#fff" stroke="none" stroke-width="1" />
<rect x="583.30" y="1096.00" width="5.80" height="1.40" fill="#fff" stroke="none" stroke-width="1" />
<path d="M584.50,1108.40 L587.90,1108.40 L587.90,1116.00 L586.20,1118.00 L584.50,1116.00 Z" fill="#fff" stroke="#111" stroke-width="0.8" />
<line x1="584.50" y1="1111.40" x2="587.90" y2="1111.40" stroke="#000" stroke-width="0.7" />
<line x1="584.50" y1="1114.00" x2="587.90" y2="1114.00" stroke="#000" stroke-width="0.7" />
<rect x="617.60" y="1073.60" width="6.00" height="3.73" fill="#fff" stroke="#555" stroke-width="0.6" rx="1.4" />
<rect x="617.60" y="1077.73" width="6.00" height="3.73" fill="#fff" stroke="#555" stroke-width="0.6" rx="1.4" />
<rect x="617.60" y="1081.87" width="6.00" height="3.73" fill="#fff" stroke="#555" stroke-width="0.6" rx="1.4" />
<path d="M622.40,1078.13 L620.20,1078.13 L620.20,1080.13 L622.00,1080.13" fill="none" stroke="#111" stroke-width="1.0" />
<path d="M622.40,1082.27 L620.20,1082.27 L620.20,1084.27 L622.00,1084.27" fill="none" stroke="#111" stroke-width="1.0" />
<line x1="622.50" y1="1075.00" x2="622.50" y2="1076.93" stroke="#333" stroke-width="0.7" />
<rect x="617.00" y="1085.80" width="7.20" height="4.40" fill="#fff" stroke="#111" stroke-width="0.8" />
<line x1="618.20" y1="1088.00" x2="624.20" y2="1088.00" stroke="#000" stroke-width="0.8" />
<path d="M615.00,1091.40 L616.40,1090.20 L624.80,1090.20 L626.20,1091.40 L626.20,1108.40 L615.00,1108.40 Z" fill="#000" stroke="none" stroke-width="1" />
<rect x="617.70" y="1098.60" width="5.80" height="9.80" fill="#fff" stroke="none" stroke-width="1" />
<rect x="617.70" y="1091.00" width="5.80" height="1.40" fill="#fff" stroke="none" stroke-width="1" />
<rect x="617.70" y="1093.50" width="5.80" height="1.40" fill="#fff" stroke="none" stroke-width="1" />
<rect x="617.70" y="1096.00" width="5.80" height="1.40" fill="#fff" stroke="none" stroke-width="1" />
<path d="M618.90,1108.40 L622.30,1108.40 L622.30,1116.00 L620.60,1118.00 L618.90,1116.00 Z" fill="#fff" stroke="#111" stroke-width="0.8" />
<line x1="618.90" y1="1111.40" x2="622.30" y2="1111.40" stroke="#000" stroke-width="0.7" />
<line x1="618.90" y1="1114.00" x2="622.30" y2="1114.00" stroke="#000" stroke-width="0.7" />
<path d="M649.40,1074.00 L656.20,1074.00 L658.40,1093.30 L647.20,1093.30 Z" fill="#fff" stroke="#000" stroke-width="0.9" />
<line x1="649.20" y1="1076.20" x2="656.40" y2="1076.20" stroke="#000" stroke-width="0.8" />
<line x1="648.84" y1="1079.40" x2="656.76" y2="1079.40" stroke="#000" stroke-width="0.8" />
<line x1="648.48" y1="1082.60" x2="657.12" y2="1082.60" stroke="#000" stroke-width="0.8" />
<line x1="648.12" y1="1085.80" x2="657.48" y2="1085.80" stroke="#000" stroke-width="0.8" />
<line x1="647.76" y1="1089.00" x2="657.84" y2="1089.00" stroke="#000" stroke-width="0.8" />
<line x1="647.40" y1="1092.20" x2="658.20" y2="1092.20" stroke="#000" stroke-width="0.8" />
<rect x="650.00" y="1078.60" width="2.20" height="2.00" fill="#000" stroke="none" stroke-width="1" />
<rect x="653.60" y="1078.60" width="2.20" height="2.00" fill="#000" stroke="none" stroke-width="1" />
<rect x="650.00" y="1082.80" width="2.20" height="2.00" fill="#000" stroke="none" stroke-width="1" />
<rect x="653.60" y="1082.80" width="2.20" height="2.00" fill="#000" stroke="none" stroke-width="1" />
<rect x="650.00" y="1087.00" width="2.20" height="2.00" fill="#000" stroke="none" stroke-width="1" />
<rect x="653.60" y="1087.00" width="2.20" height="2.00" fill="#000" stroke="none" stroke-width="1" />
<path d="M646.30,1093.30 L659.30,1093.30 L659.30,1117.00 L646.30,1117.00 Z" fill="#fff" stroke="#000" stroke-width="1.1" />
<line x1="645.60" y1="1095.60" x2="646.80" y2="1095.60" stroke="#444" stroke-width="0.6" />
<line x1="658.80" y1="1095.60" x2="660.00" y2="1095.60" stroke="#444" stroke-width="0.6" />
<line x1="645.60" y1="1097.60" x2="646.80" y2="1097.60" stroke="#444" stroke-width="0.6" />
<line x1="658.80" y1="1097.60" x2="660.00" y2="1097.60" stroke="#444" stroke-width="0.6" />
<line x1="645.60" y1="1099.60" x2="646.80" y2="1099.60" stroke="#444" stroke-width="0.6" />
<line x1="658.80" y1="1099.60" x2="660.00" y2="1099.60" stroke="#444" stroke-width="0.6" />
<line x1="645.60" y1="1101.60" x2="646.80" y2="1101.60" stroke="#444" stroke-width="0.6" />
<line x1="658.80" y1="1101.60" x2="660.00" y2="1101.60" stroke="#444" stroke-width="0.6" />
<rect x="650.10" y="1097.20" width="5.40" height="5.40" fill="#111" stroke="none" stroke-width="1" />
<path d="M511.2,1206 L538,1206 Q538,1212.6 533,1215.2 Q524,1218.4 516,1215.2 Q511.2,1212.6 511.2,1206 Z" fill="url(#gFoot)" stroke="#111" stroke-width="1.0" />
<path d="M693,1206 L720,1206 Q720,1212.2 715,1214.6 Q706,1217.6 698,1214.6 Q693,1212.2 693,1206 Z" fill="url(#gFoot)" stroke="#111" stroke-width="1.0" />
<clipPath id="cTop"><path d="M532,1126 L714,1125.6 Q718,1126 720.6,1129.4 L735,1151.4 L502.4,1152.6 Z"/></clipPath>
<clipPath id="cFront"><path d="M502.4,1152 L735,1151 L734,1204.6 L502.4,1207 Z"/></clipPath>
<linearGradient id="gHi" gradientUnits="userSpaceOnUse" x1="585" y1="1179" x2="630.6" y2="1262.6"><stop offset="0" stop-color="#f7f7f7"/><stop offset="0.22" stop-color="#ebebeb"/><stop offset="0.5" stop-color="#dedede"/><stop offset="0.8" stop-color="#d2d2d2"/><stop offset="1" stop-color="#cacaca"/></linearGradient>
<linearGradient id="gHiT" gradientUnits="userSpaceOnUse" x1="663" y1="1136" x2="700" y2="1170"><stop offset="0" stop-color="#eeeeee"/><stop offset="0.5" stop-color="#e2e2e2"/><stop offset="1" stop-color="#d8d8d8"/></linearGradient>
<g clip-path="url(#cTop)">
<rect x="500.00" y="1120.00" width="240.00" height="36.00" fill="#cbcbcb" stroke="none" stroke-width="1" />
<path d="M634,1152 L652,1143.4 L679,1125 L740,1125 L740,1156 L634,1156 Z" fill="url(#gHiT)" stroke="none" stroke-width="1" />
<path d="M500,1143.6 L740,1143.6 L740,1156 L500,1156 Z" fill="#fff" stroke="none" stroke-width="1" opacity="0.22"/>
</g>
<g clip-path="url(#cFront)">
<rect x="500.00" y="1150.00" width="240.00" height="60.00" fill="#cccccc" stroke="none" stroke-width="1" />
<path d="M528,1210 L634,1151.6 L740,1150 L740,1210 Z" fill="url(#gHi)" stroke="none" stroke-width="1" />
</g>
<path d="M506,1204.6 Q600,1205.8 680,1204 L730,1202" fill="none" stroke="#fff" stroke-width="1.6" />
<linearGradient id="gSide" gradientUnits="userSpaceOnUse" x1="716" y1="1156" x2="728" y2="1184"><stop offset="0" stop-color="#d0d0d0"/><stop offset="0.75" stop-color="#e6e6e6"/><stop offset="1" stop-color="#ffffff"/></linearGradient>
<path d="M712,1152.6 L733,1152.6 L733,1203 L712,1204.4 Z" fill="url(#gSide)" stroke="none" stroke-width="1" />
<path d="M534,1126.4 Q560,1125.6 600,1125 L712,1124.8 Q717.6,1125 720.6,1128.6 L736,1151.4 L736,1153 L732.4,1153 L718.6,1130.6 Q716.6,1128 712.6,1128 L600,1128 Q560,1127.6 534,1126.4 Z" fill="#000" stroke="#000" stroke-width="0.5" stroke-linejoin="round"/>
<path d="M532.2,1125 L501.6,1152.4 L502,1154.6 L506,1153.6 L518,1142.6 L532.6,1126.2 Z" fill="#000" stroke="#000" stroke-width="0.6" stroke-linejoin="round"/>
<path d="M501.4,1152.4 L505.8,1153 L504.6,1206.6 L501.6,1207.6 Z" fill="#000" stroke="#000" stroke-width="0.6" stroke-linejoin="round"/>
<path d="M731.8,1151 L735.9,1151 L735.2,1203.4 L732.8,1203.4 Z" fill="#000" stroke="#000" stroke-width="0.5" stroke-linejoin="round"/>
<line x1="517.60" y1="1143.50" x2="724.40" y2="1143.50" stroke="#000" stroke-width="1" />
<path d="M517,1151.2 Q524,1151 540,1151.2 L729.6,1150.2 Q731,1151.4 729.6,1152.8 L600,1152.6 L540,1152.4 Q524,1152.2 517,1151.2 Z" fill="#000" stroke="#000" stroke-width="0.4" />
<path d="M504,1206 Q600,1207 660,1205 L729,1203.2 Q731.4,1205.2 729.4,1207.2 L660,1208.4 Q600,1209 504,1207.8 Z" fill="#000" stroke="#000" stroke-width="0.5" stroke-linejoin="round"/>
<line x1="525.70" y1="1152.00" x2="525.70" y2="1205.00" stroke="#000" stroke-width="1.8" />
<line x1="711.50" y1="1152.00" x2="711.50" y2="1204.00" stroke="#000" stroke-width="1.1" />
<path d="M563,1160 Q568,1158.2 575,1159.4 L662,1159.2 Q673,1159.8 677.6,1163.4 Q674,1165.6 668,1165.2 L575,1165.6 Q568,1165 563,1160 Z" fill="#999" stroke="#000" stroke-width="1.2" />
<path d="M562.4,1159.6 Q567,1157 572.8,1159.8 Q574.4,1163.8 578,1165.4 Q567,1166 562.4,1159.6 Z" fill="#000" stroke="#000" stroke-width="0.9" />
<path d="M678.2,1163.4 Q672,1158.4 661,1158.8 Q667,1161.6 666,1165.4 Q674,1166.2 678.2,1163.4 Z" fill="#000" stroke="#000" stroke-width="0.9" />
<line x1="589.60" y1="1159.60" x2="589.60" y2="1165.20" stroke="#000" stroke-width="0.9" />
<line x1="604.40" y1="1159.60" x2="604.40" y2="1165.20" stroke="#000" stroke-width="0.9" />
<line x1="619.20" y1="1159.60" x2="619.20" y2="1165.20" stroke="#000" stroke-width="0.9" />
<line x1="634.00" y1="1159.60" x2="634.00" y2="1165.20" stroke="#000" stroke-width="0.9" />
<line x1="648.80" y1="1159.60" x2="648.80" y2="1165.20" stroke="#000" stroke-width="0.9" />
<path d="M533.2,1168.2 L536.8,1168.2 L536.8,1189.6 L533.2,1189.6 Z" fill="#000" stroke="none" stroke-width="1" />
<path d="M534,1186.8 L706,1186.4 L706,1188.8 L534,1189.6 Z" fill="#000" stroke="none" stroke-width="1" />
<path d="M536,1170.8 L600,1170.4 L707.2,1170 L707.2,1173 L600,1172.4 L536,1171.8 Z" fill="#000" stroke="none" stroke-width="1" />
<path d="M704.4,1170 L707.4,1170 L707.2,1190.6 Q706,1191.6 704.8,1190.4 Z" fill="#000" stroke="#000" stroke-width="0.4" />
<rect x="564.40" y="1191.20" width="104.20" height="9.20" fill="#999" stroke="#333" stroke-width="0.8" />
<line x1="564.40" y1="1191.20" x2="668.60" y2="1191.20" stroke="#222" stroke-width="1.1" />
<line x1="668.70" y1="1191.00" x2="668.70" y2="1201.00" stroke="#000" stroke-width="1.1" />
<path d="M673.20,1193.9 L682.90,1193.9 L682.90,1199.4" fill="none" stroke="#111" stroke-width="0.9" />
<path d="M673.20,1193.7 L673.20,1199.4 L682.90,1199.4" fill="none" stroke="#000" stroke-width="1.7" stroke-linejoin="miter"/>
<path d="M685.40,1193.9 L695.50,1193.9 L695.50,1199.4" fill="none" stroke="#111" stroke-width="0.9" />
<path d="M685.40,1193.7 L685.40,1199.4 L695.50,1199.4" fill="none" stroke="#000" stroke-width="1.7" stroke-linejoin="miter"/>
<path d="M698.80,1193.9 L708.50,1193.9 L708.50,1199.4" fill="none" stroke="#111" stroke-width="0.9" />
<path d="M698.80,1193.7 L698.80,1199.4 L708.50,1199.4" fill="none" stroke="#000" stroke-width="1.7" stroke-linejoin="miter"/>
<path d="M510,1166.3 L519.6,1166.5 L519.8,1171.2" fill="none" stroke="#111" stroke-width="1.1" stroke-linejoin="round"/>
<path d="M510.4,1166.2 L509.2,1171.3999999999999 L519.8,1171.3999999999999" fill="none" stroke="#000" stroke-width="1.6" stroke-linejoin="round"/>
<path d="M510,1176.3 L519.6,1176.5 L519.8,1181.2" fill="none" stroke="#111" stroke-width="1.1" stroke-linejoin="round"/>
<path d="M510.4,1176.2 L509.2,1181.3999999999999 L519.8,1181.3999999999999" fill="none" stroke="#000" stroke-width="1.6" stroke-linejoin="round"/>
<circle cx="511.20" cy="1198.50" r="2.5" fill="#d8d8d8" stroke="#111" stroke-width="1.0"/>
<circle cx="519.80" cy="1198.50" r="2.5" fill="#d8d8d8" stroke="#111" stroke-width="1.0"/>
<rect x="714.00" y="1159.00" width="11.20" height="2.80" fill="#eee" stroke="#111" stroke-width="0.9" rx="1.4" />
<rect x="714.00" y="1164.20" width="11.20" height="2.80" fill="#eee" stroke="#111" stroke-width="0.9" rx="1.4" />
</svg>
</body>
</html>
